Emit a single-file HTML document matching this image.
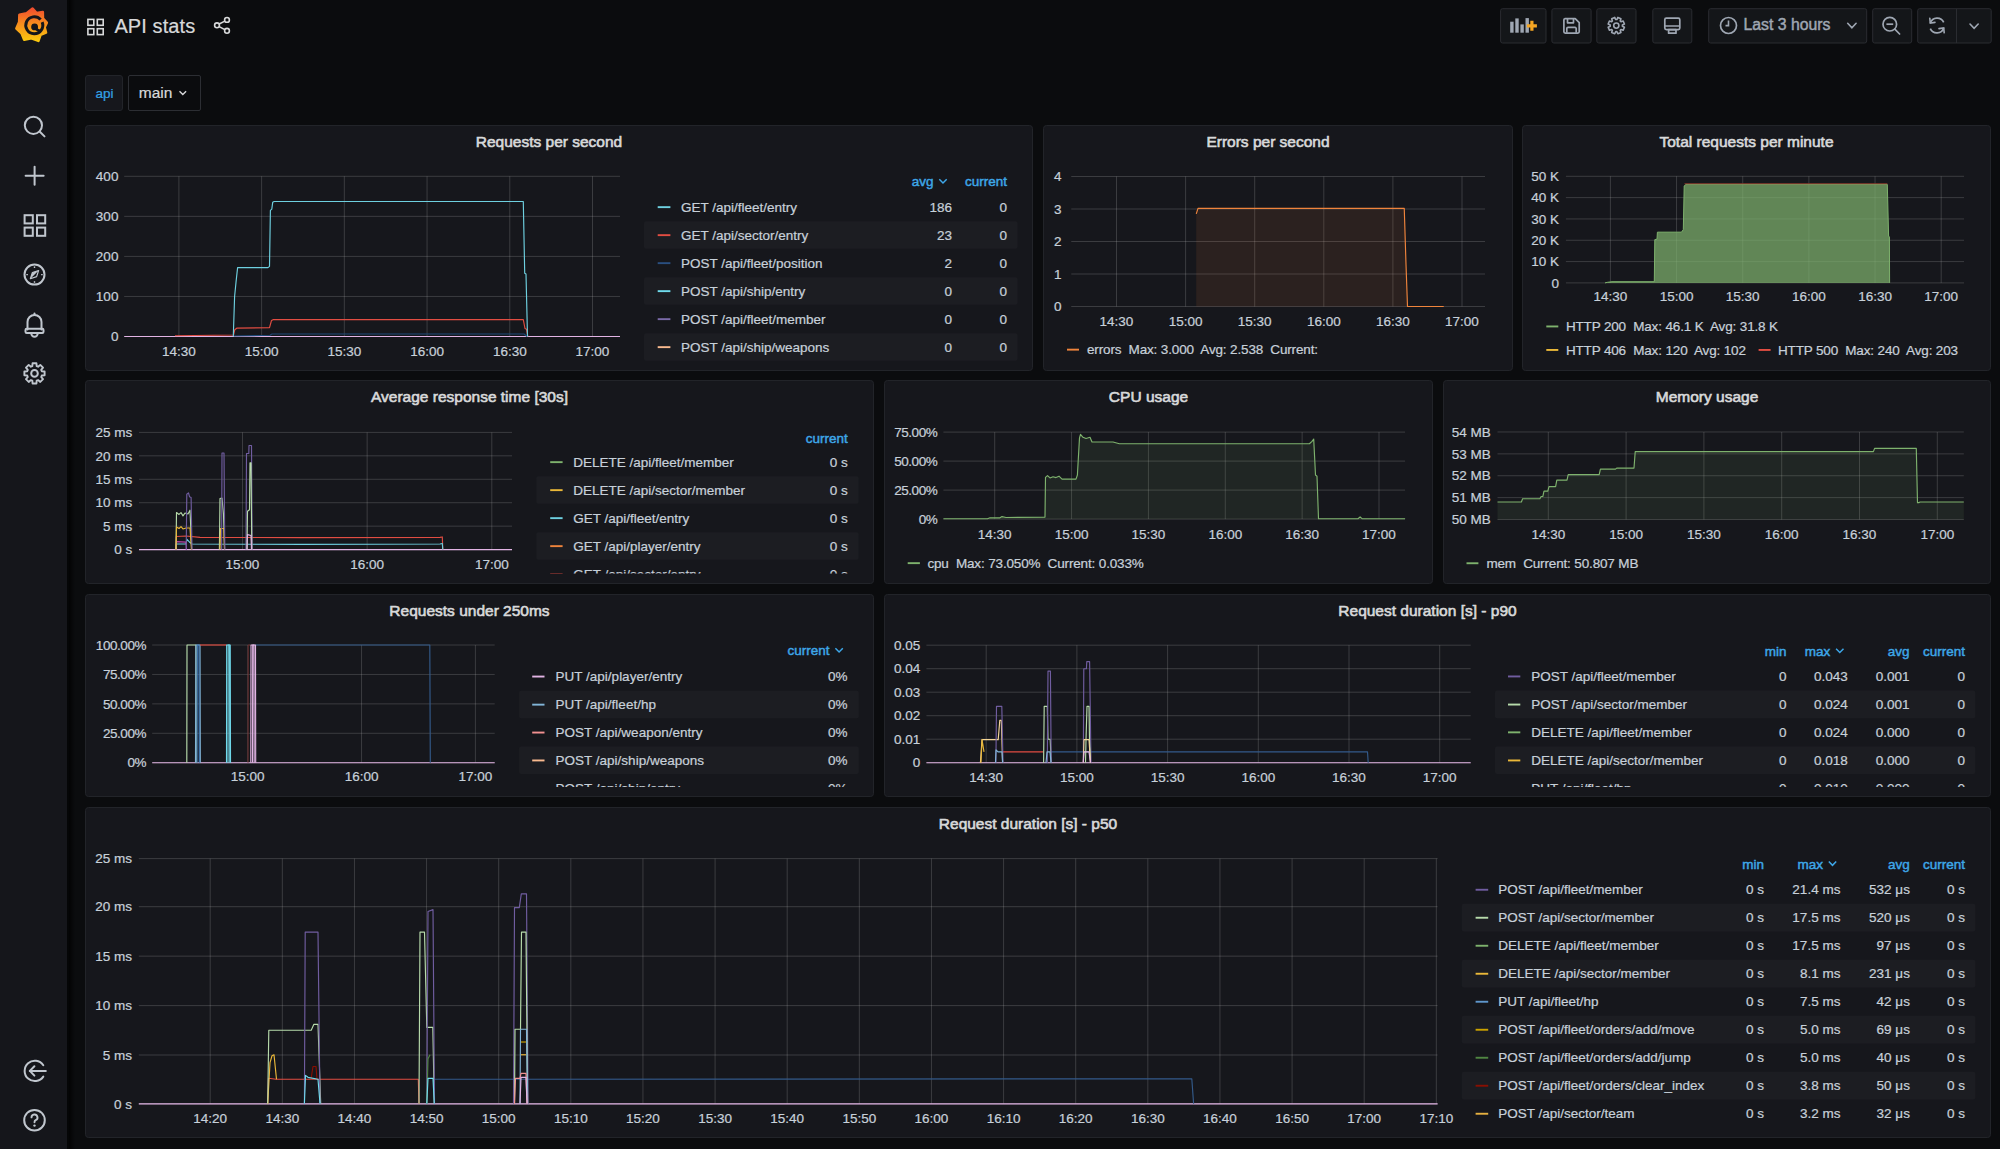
<!DOCTYPE html>
<html><head><meta charset="utf-8"><title>API stats - Grafana</title>
<style>
html,body{margin:0;padding:0;background:#0b0c0e;width:2000px;height:1149px;overflow:hidden;}
svg{position:absolute;left:0;top:0;display:block;}
text{font-family:'Liberation Sans', sans-serif;}
</style></head><body>
<svg width="2000" height="1149" viewBox="0 0 2000 1149">
<rect x="0" y="0" width="67" height="1149" fill="#15161b"/>
<rect x="67" y="0" width="2" height="1149" fill="#050607"/>
<rect x="69" y="0" width="6" height="1149" fill="url(#shd)"/>
<rect x="85.5" y="125.5" width="947" height="245" fill="#16171c" stroke="#222429" stroke-width="1" rx="3"/>
<text x="549" y="147.4" font-size="15.5" fill="#d8d9da" text-anchor="middle" stroke="#d8d9da" stroke-width="0.62">Requests per second</text>
<rect x="1043.5" y="125.5" width="469" height="245" fill="#16171c" stroke="#222429" stroke-width="1" rx="3"/>
<text x="1268" y="147.4" font-size="15.5" fill="#d8d9da" text-anchor="middle" stroke="#d8d9da" stroke-width="0.62">Errors per second</text>
<rect x="1522.5" y="125.5" width="468" height="245" fill="#16171c" stroke="#222429" stroke-width="1" rx="3"/>
<text x="1746.5" y="147.4" font-size="15.5" fill="#d8d9da" text-anchor="middle" stroke="#d8d9da" stroke-width="0.62">Total requests per minute</text>
<rect x="85.5" y="380.5" width="788" height="203" fill="#16171c" stroke="#222429" stroke-width="1" rx="3"/>
<text x="469.5" y="402.4" font-size="15.5" fill="#d8d9da" text-anchor="middle" stroke="#d8d9da" stroke-width="0.62">Average response time [30s]</text>
<rect x="884.5" y="380.5" width="548" height="203" fill="#16171c" stroke="#222429" stroke-width="1" rx="3"/>
<text x="1148.5" y="402.4" font-size="15.5" fill="#d8d9da" text-anchor="middle" stroke="#d8d9da" stroke-width="0.62">CPU usage</text>
<rect x="1443.5" y="380.5" width="547" height="203" fill="#16171c" stroke="#222429" stroke-width="1" rx="3"/>
<text x="1707" y="402.4" font-size="15.5" fill="#d8d9da" text-anchor="middle" stroke="#d8d9da" stroke-width="0.62">Memory usage</text>
<rect x="85.5" y="594.5" width="788" height="202" fill="#16171c" stroke="#222429" stroke-width="1" rx="3"/>
<text x="469.5" y="616.4" font-size="15.5" fill="#d8d9da" text-anchor="middle" stroke="#d8d9da" stroke-width="0.62">Requests under 250ms</text>
<rect x="884.5" y="594.5" width="1106" height="202" fill="#16171c" stroke="#222429" stroke-width="1" rx="3"/>
<text x="1427.5" y="616.4" font-size="15.5" fill="#d8d9da" text-anchor="middle" stroke="#d8d9da" stroke-width="0.62">Request duration [s] - p90</text>
<rect x="85.5" y="807.5" width="1905" height="330" fill="#16171c" stroke="#222429" stroke-width="1" rx="3"/>
<text x="1028" y="829.4" font-size="15.5" fill="#d8d9da" text-anchor="middle" stroke="#d8d9da" stroke-width="0.62">Request duration [s] - p50</text>
<line x1="124.2" y1="336.5" x2="620" y2="336.5" stroke="#c8c8c8" stroke-opacity="0.21" stroke-width="1"/>
<text x="118.4" y="341.2" font-size="13.5" fill="#c7d0d9" text-anchor="end" stroke="#c7d0d9" stroke-width="0.22">0</text>
<line x1="124.2" y1="296.45" x2="620" y2="296.45" stroke="#c8c8c8" stroke-opacity="0.21" stroke-width="1"/>
<text x="118.4" y="301.15" font-size="13.5" fill="#c7d0d9" text-anchor="end" stroke="#c7d0d9" stroke-width="0.22">100</text>
<line x1="124.2" y1="256.4" x2="620" y2="256.4" stroke="#c8c8c8" stroke-opacity="0.21" stroke-width="1"/>
<text x="118.4" y="261.1" font-size="13.5" fill="#c7d0d9" text-anchor="end" stroke="#c7d0d9" stroke-width="0.22">200</text>
<line x1="124.2" y1="216.35" x2="620" y2="216.35" stroke="#c8c8c8" stroke-opacity="0.21" stroke-width="1"/>
<text x="118.4" y="221.05" font-size="13.5" fill="#c7d0d9" text-anchor="end" stroke="#c7d0d9" stroke-width="0.22">300</text>
<line x1="124.2" y1="176.3" x2="620" y2="176.3" stroke="#c8c8c8" stroke-opacity="0.21" stroke-width="1"/>
<text x="118.4" y="181" font-size="13.5" fill="#c7d0d9" text-anchor="end" stroke="#c7d0d9" stroke-width="0.22">400</text>
<line x1="178.9" y1="176.3" x2="178.9" y2="336.5" stroke="#c8c8c8" stroke-opacity="0.21" stroke-width="1"/>
<text x="178.9" y="356" font-size="13.5" fill="#c7d0d9" text-anchor="middle" stroke="#c7d0d9" stroke-width="0.22">14:30</text>
<line x1="261.62" y1="176.3" x2="261.62" y2="336.5" stroke="#c8c8c8" stroke-opacity="0.21" stroke-width="1"/>
<text x="261.62" y="356" font-size="13.5" fill="#c7d0d9" text-anchor="middle" stroke="#c7d0d9" stroke-width="0.22">15:00</text>
<line x1="344.34" y1="176.3" x2="344.34" y2="336.5" stroke="#c8c8c8" stroke-opacity="0.21" stroke-width="1"/>
<text x="344.34" y="356" font-size="13.5" fill="#c7d0d9" text-anchor="middle" stroke="#c7d0d9" stroke-width="0.22">15:30</text>
<line x1="427.06" y1="176.3" x2="427.06" y2="336.5" stroke="#c8c8c8" stroke-opacity="0.21" stroke-width="1"/>
<text x="427.06" y="356" font-size="13.5" fill="#c7d0d9" text-anchor="middle" stroke="#c7d0d9" stroke-width="0.22">16:00</text>
<line x1="509.78" y1="176.3" x2="509.78" y2="336.5" stroke="#c8c8c8" stroke-opacity="0.21" stroke-width="1"/>
<text x="509.78" y="356" font-size="13.5" fill="#c7d0d9" text-anchor="middle" stroke="#c7d0d9" stroke-width="0.22">16:30</text>
<line x1="592.5" y1="176.3" x2="592.5" y2="336.5" stroke="#c8c8c8" stroke-opacity="0.21" stroke-width="1"/>
<text x="592.5" y="356" font-size="13.5" fill="#c7d0d9" text-anchor="middle" stroke="#c7d0d9" stroke-width="0.22">17:00</text>
<line x1="1071.25" y1="306.5" x2="1485" y2="306.5" stroke="#c8c8c8" stroke-opacity="0.21" stroke-width="1"/>
<text x="1061.5" y="311.2" font-size="13.5" fill="#c7d0d9" text-anchor="end" stroke="#c7d0d9" stroke-width="0.22">0</text>
<line x1="1071.25" y1="274" x2="1485" y2="274" stroke="#c8c8c8" stroke-opacity="0.21" stroke-width="1"/>
<text x="1061.5" y="278.7" font-size="13.5" fill="#c7d0d9" text-anchor="end" stroke="#c7d0d9" stroke-width="0.22">1</text>
<line x1="1071.25" y1="241.5" x2="1485" y2="241.5" stroke="#c8c8c8" stroke-opacity="0.21" stroke-width="1"/>
<text x="1061.5" y="246.2" font-size="13.5" fill="#c7d0d9" text-anchor="end" stroke="#c7d0d9" stroke-width="0.22">2</text>
<line x1="1071.25" y1="209" x2="1485" y2="209" stroke="#c8c8c8" stroke-opacity="0.21" stroke-width="1"/>
<text x="1061.5" y="213.7" font-size="13.5" fill="#c7d0d9" text-anchor="end" stroke="#c7d0d9" stroke-width="0.22">3</text>
<line x1="1071.25" y1="176.5" x2="1485" y2="176.5" stroke="#c8c8c8" stroke-opacity="0.21" stroke-width="1"/>
<text x="1061.5" y="181.2" font-size="13.5" fill="#c7d0d9" text-anchor="end" stroke="#c7d0d9" stroke-width="0.22">4</text>
<line x1="1116.5" y1="176.5" x2="1116.5" y2="306.5" stroke="#c8c8c8" stroke-opacity="0.21" stroke-width="1"/>
<text x="1116.5" y="325.5" font-size="13.5" fill="#c7d0d9" text-anchor="middle" stroke="#c7d0d9" stroke-width="0.22">14:30</text>
<line x1="1185.6" y1="176.5" x2="1185.6" y2="306.5" stroke="#c8c8c8" stroke-opacity="0.21" stroke-width="1"/>
<text x="1185.6" y="325.5" font-size="13.5" fill="#c7d0d9" text-anchor="middle" stroke="#c7d0d9" stroke-width="0.22">15:00</text>
<line x1="1254.7" y1="176.5" x2="1254.7" y2="306.5" stroke="#c8c8c8" stroke-opacity="0.21" stroke-width="1"/>
<text x="1254.7" y="325.5" font-size="13.5" fill="#c7d0d9" text-anchor="middle" stroke="#c7d0d9" stroke-width="0.22">15:30</text>
<line x1="1323.8" y1="176.5" x2="1323.8" y2="306.5" stroke="#c8c8c8" stroke-opacity="0.21" stroke-width="1"/>
<text x="1323.8" y="325.5" font-size="13.5" fill="#c7d0d9" text-anchor="middle" stroke="#c7d0d9" stroke-width="0.22">16:00</text>
<line x1="1392.9" y1="176.5" x2="1392.9" y2="306.5" stroke="#c8c8c8" stroke-opacity="0.21" stroke-width="1"/>
<text x="1392.9" y="325.5" font-size="13.5" fill="#c7d0d9" text-anchor="middle" stroke="#c7d0d9" stroke-width="0.22">16:30</text>
<line x1="1462" y1="176.5" x2="1462" y2="306.5" stroke="#c8c8c8" stroke-opacity="0.21" stroke-width="1"/>
<text x="1462" y="325.5" font-size="13.5" fill="#c7d0d9" text-anchor="middle" stroke="#c7d0d9" stroke-width="0.22">17:00</text>
<line x1="1565.9" y1="282.9" x2="1964" y2="282.9" stroke="#c8c8c8" stroke-opacity="0.21" stroke-width="1"/>
<text x="1559" y="287.6" font-size="13.5" fill="#c7d0d9" text-anchor="end" stroke="#c7d0d9" stroke-width="0.22">0</text>
<line x1="1565.9" y1="261.58" x2="1964" y2="261.58" stroke="#c8c8c8" stroke-opacity="0.21" stroke-width="1"/>
<text x="1559" y="266.28" font-size="13.5" fill="#c7d0d9" text-anchor="end" stroke="#c7d0d9" stroke-width="0.22">10 K</text>
<line x1="1565.9" y1="240.26" x2="1964" y2="240.26" stroke="#c8c8c8" stroke-opacity="0.21" stroke-width="1"/>
<text x="1559" y="244.96" font-size="13.5" fill="#c7d0d9" text-anchor="end" stroke="#c7d0d9" stroke-width="0.22">20 K</text>
<line x1="1565.9" y1="218.94" x2="1964" y2="218.94" stroke="#c8c8c8" stroke-opacity="0.21" stroke-width="1"/>
<text x="1559" y="223.64" font-size="13.5" fill="#c7d0d9" text-anchor="end" stroke="#c7d0d9" stroke-width="0.22">30 K</text>
<line x1="1565.9" y1="197.62" x2="1964" y2="197.62" stroke="#c8c8c8" stroke-opacity="0.21" stroke-width="1"/>
<text x="1559" y="202.32" font-size="13.5" fill="#c7d0d9" text-anchor="end" stroke="#c7d0d9" stroke-width="0.22">40 K</text>
<line x1="1565.9" y1="176.3" x2="1964" y2="176.3" stroke="#c8c8c8" stroke-opacity="0.21" stroke-width="1"/>
<text x="1559" y="181" font-size="13.5" fill="#c7d0d9" text-anchor="end" stroke="#c7d0d9" stroke-width="0.22">50 K</text>
<line x1="1610.4" y1="176.3" x2="1610.4" y2="282.9" stroke="#c8c8c8" stroke-opacity="0.21" stroke-width="1"/>
<text x="1610.4" y="301.3" font-size="13.5" fill="#c7d0d9" text-anchor="middle" stroke="#c7d0d9" stroke-width="0.22">14:30</text>
<line x1="1676.56" y1="176.3" x2="1676.56" y2="282.9" stroke="#c8c8c8" stroke-opacity="0.21" stroke-width="1"/>
<text x="1676.56" y="301.3" font-size="13.5" fill="#c7d0d9" text-anchor="middle" stroke="#c7d0d9" stroke-width="0.22">15:00</text>
<line x1="1742.72" y1="176.3" x2="1742.72" y2="282.9" stroke="#c8c8c8" stroke-opacity="0.21" stroke-width="1"/>
<text x="1742.72" y="301.3" font-size="13.5" fill="#c7d0d9" text-anchor="middle" stroke="#c7d0d9" stroke-width="0.22">15:30</text>
<line x1="1808.88" y1="176.3" x2="1808.88" y2="282.9" stroke="#c8c8c8" stroke-opacity="0.21" stroke-width="1"/>
<text x="1808.88" y="301.3" font-size="13.5" fill="#c7d0d9" text-anchor="middle" stroke="#c7d0d9" stroke-width="0.22">16:00</text>
<line x1="1875.04" y1="176.3" x2="1875.04" y2="282.9" stroke="#c8c8c8" stroke-opacity="0.21" stroke-width="1"/>
<text x="1875.04" y="301.3" font-size="13.5" fill="#c7d0d9" text-anchor="middle" stroke="#c7d0d9" stroke-width="0.22">16:30</text>
<line x1="1941.2" y1="176.3" x2="1941.2" y2="282.9" stroke="#c8c8c8" stroke-opacity="0.21" stroke-width="1"/>
<text x="1941.2" y="301.3" font-size="13.5" fill="#c7d0d9" text-anchor="middle" stroke="#c7d0d9" stroke-width="0.22">17:00</text>
<line x1="139" y1="549.6" x2="512" y2="549.6" stroke="#c8c8c8" stroke-opacity="0.21" stroke-width="1"/>
<text x="132.2" y="554.3" font-size="13.5" fill="#c7d0d9" text-anchor="end" stroke="#c7d0d9" stroke-width="0.22">0 s</text>
<line x1="139" y1="526.16" x2="512" y2="526.16" stroke="#c8c8c8" stroke-opacity="0.21" stroke-width="1"/>
<text x="132.2" y="530.86" font-size="13.5" fill="#c7d0d9" text-anchor="end" stroke="#c7d0d9" stroke-width="0.22">5 ms</text>
<line x1="139" y1="502.72" x2="512" y2="502.72" stroke="#c8c8c8" stroke-opacity="0.21" stroke-width="1"/>
<text x="132.2" y="507.42" font-size="13.5" fill="#c7d0d9" text-anchor="end" stroke="#c7d0d9" stroke-width="0.22">10 ms</text>
<line x1="139" y1="479.28" x2="512" y2="479.28" stroke="#c8c8c8" stroke-opacity="0.21" stroke-width="1"/>
<text x="132.2" y="483.98" font-size="13.5" fill="#c7d0d9" text-anchor="end" stroke="#c7d0d9" stroke-width="0.22">15 ms</text>
<line x1="139" y1="455.84" x2="512" y2="455.84" stroke="#c8c8c8" stroke-opacity="0.21" stroke-width="1"/>
<text x="132.2" y="460.54" font-size="13.5" fill="#c7d0d9" text-anchor="end" stroke="#c7d0d9" stroke-width="0.22">20 ms</text>
<line x1="139" y1="432.4" x2="512" y2="432.4" stroke="#c8c8c8" stroke-opacity="0.21" stroke-width="1"/>
<text x="132.2" y="437.1" font-size="13.5" fill="#c7d0d9" text-anchor="end" stroke="#c7d0d9" stroke-width="0.22">25 ms</text>
<line x1="242.5" y1="432.4" x2="242.5" y2="549.6" stroke="#c8c8c8" stroke-opacity="0.21" stroke-width="1"/>
<text x="242.5" y="568.5" font-size="13.5" fill="#c7d0d9" text-anchor="middle" stroke="#c7d0d9" stroke-width="0.22">15:00</text>
<line x1="367.15" y1="432.4" x2="367.15" y2="549.6" stroke="#c8c8c8" stroke-opacity="0.21" stroke-width="1"/>
<text x="367.15" y="568.5" font-size="13.5" fill="#c7d0d9" text-anchor="middle" stroke="#c7d0d9" stroke-width="0.22">16:00</text>
<line x1="491.8" y1="432.4" x2="491.8" y2="549.6" stroke="#c8c8c8" stroke-opacity="0.21" stroke-width="1"/>
<text x="491.8" y="568.5" font-size="13.5" fill="#c7d0d9" text-anchor="middle" stroke="#c7d0d9" stroke-width="0.22">17:00</text>
<line x1="943.4" y1="519.1" x2="1405.1" y2="519.1" stroke="#c8c8c8" stroke-opacity="0.21" stroke-width="1"/>
<text x="937.3" y="523.8" font-size="13.5" fill="#c7d0d9" text-anchor="end" letter-spacing="-0.45" stroke="#c7d0d9" stroke-width="0.22">0%</text>
<line x1="943.4" y1="490.1" x2="1405.1" y2="490.1" stroke="#c8c8c8" stroke-opacity="0.21" stroke-width="1"/>
<text x="937.3" y="494.8" font-size="13.5" fill="#c7d0d9" text-anchor="end" letter-spacing="-0.45" stroke="#c7d0d9" stroke-width="0.22">25.00%</text>
<line x1="943.4" y1="461.1" x2="1405.1" y2="461.1" stroke="#c8c8c8" stroke-opacity="0.21" stroke-width="1"/>
<text x="937.3" y="465.8" font-size="13.5" fill="#c7d0d9" text-anchor="end" letter-spacing="-0.45" stroke="#c7d0d9" stroke-width="0.22">50.00%</text>
<line x1="943.4" y1="432.1" x2="1405.1" y2="432.1" stroke="#c8c8c8" stroke-opacity="0.21" stroke-width="1"/>
<text x="937.3" y="436.8" font-size="13.5" fill="#c7d0d9" text-anchor="end" letter-spacing="-0.45" stroke="#c7d0d9" stroke-width="0.22">75.00%</text>
<line x1="994.7" y1="432.1" x2="994.7" y2="519.1" stroke="#c8c8c8" stroke-opacity="0.21" stroke-width="1"/>
<text x="994.7" y="538.9" font-size="13.5" fill="#c7d0d9" text-anchor="middle" stroke="#c7d0d9" stroke-width="0.22">14:30</text>
<line x1="1071.56" y1="432.1" x2="1071.56" y2="519.1" stroke="#c8c8c8" stroke-opacity="0.21" stroke-width="1"/>
<text x="1071.56" y="538.9" font-size="13.5" fill="#c7d0d9" text-anchor="middle" stroke="#c7d0d9" stroke-width="0.22">15:00</text>
<line x1="1148.42" y1="432.1" x2="1148.42" y2="519.1" stroke="#c8c8c8" stroke-opacity="0.21" stroke-width="1"/>
<text x="1148.42" y="538.9" font-size="13.5" fill="#c7d0d9" text-anchor="middle" stroke="#c7d0d9" stroke-width="0.22">15:30</text>
<line x1="1225.28" y1="432.1" x2="1225.28" y2="519.1" stroke="#c8c8c8" stroke-opacity="0.21" stroke-width="1"/>
<text x="1225.28" y="538.9" font-size="13.5" fill="#c7d0d9" text-anchor="middle" stroke="#c7d0d9" stroke-width="0.22">16:00</text>
<line x1="1302.14" y1="432.1" x2="1302.14" y2="519.1" stroke="#c8c8c8" stroke-opacity="0.21" stroke-width="1"/>
<text x="1302.14" y="538.9" font-size="13.5" fill="#c7d0d9" text-anchor="middle" stroke="#c7d0d9" stroke-width="0.22">16:30</text>
<line x1="1379" y1="432.1" x2="1379" y2="519.1" stroke="#c8c8c8" stroke-opacity="0.21" stroke-width="1"/>
<text x="1379" y="538.9" font-size="13.5" fill="#c7d0d9" text-anchor="middle" stroke="#c7d0d9" stroke-width="0.22">17:00</text>
<line x1="1497.5" y1="519.5" x2="1963.8" y2="519.5" stroke="#c8c8c8" stroke-opacity="0.21" stroke-width="1"/>
<text x="1490.7" y="524.2" font-size="13.5" fill="#c7d0d9" text-anchor="end" stroke="#c7d0d9" stroke-width="0.22">50 MB</text>
<line x1="1497.5" y1="497.62" x2="1963.8" y2="497.62" stroke="#c8c8c8" stroke-opacity="0.21" stroke-width="1"/>
<text x="1490.7" y="502.32" font-size="13.5" fill="#c7d0d9" text-anchor="end" stroke="#c7d0d9" stroke-width="0.22">51 MB</text>
<line x1="1497.5" y1="475.74" x2="1963.8" y2="475.74" stroke="#c8c8c8" stroke-opacity="0.21" stroke-width="1"/>
<text x="1490.7" y="480.44" font-size="13.5" fill="#c7d0d9" text-anchor="end" stroke="#c7d0d9" stroke-width="0.22">52 MB</text>
<line x1="1497.5" y1="453.86" x2="1963.8" y2="453.86" stroke="#c8c8c8" stroke-opacity="0.21" stroke-width="1"/>
<text x="1490.7" y="458.56" font-size="13.5" fill="#c7d0d9" text-anchor="end" stroke="#c7d0d9" stroke-width="0.22">53 MB</text>
<line x1="1497.5" y1="431.98" x2="1963.8" y2="431.98" stroke="#c8c8c8" stroke-opacity="0.21" stroke-width="1"/>
<text x="1490.7" y="436.68" font-size="13.5" fill="#c7d0d9" text-anchor="end" stroke="#c7d0d9" stroke-width="0.22">54 MB</text>
<line x1="1548.3" y1="431.98" x2="1548.3" y2="519.5" stroke="#c8c8c8" stroke-opacity="0.21" stroke-width="1"/>
<text x="1548.3" y="538.9" font-size="13.5" fill="#c7d0d9" text-anchor="middle" stroke="#c7d0d9" stroke-width="0.22">14:30</text>
<line x1="1626.1" y1="431.98" x2="1626.1" y2="519.5" stroke="#c8c8c8" stroke-opacity="0.21" stroke-width="1"/>
<text x="1626.1" y="538.9" font-size="13.5" fill="#c7d0d9" text-anchor="middle" stroke="#c7d0d9" stroke-width="0.22">15:00</text>
<line x1="1703.9" y1="431.98" x2="1703.9" y2="519.5" stroke="#c8c8c8" stroke-opacity="0.21" stroke-width="1"/>
<text x="1703.9" y="538.9" font-size="13.5" fill="#c7d0d9" text-anchor="middle" stroke="#c7d0d9" stroke-width="0.22">15:30</text>
<line x1="1781.7" y1="431.98" x2="1781.7" y2="519.5" stroke="#c8c8c8" stroke-opacity="0.21" stroke-width="1"/>
<text x="1781.7" y="538.9" font-size="13.5" fill="#c7d0d9" text-anchor="middle" stroke="#c7d0d9" stroke-width="0.22">16:00</text>
<line x1="1859.5" y1="431.98" x2="1859.5" y2="519.5" stroke="#c8c8c8" stroke-opacity="0.21" stroke-width="1"/>
<text x="1859.5" y="538.9" font-size="13.5" fill="#c7d0d9" text-anchor="middle" stroke="#c7d0d9" stroke-width="0.22">16:30</text>
<line x1="1937.3" y1="431.98" x2="1937.3" y2="519.5" stroke="#c8c8c8" stroke-opacity="0.21" stroke-width="1"/>
<text x="1937.3" y="538.9" font-size="13.5" fill="#c7d0d9" text-anchor="middle" stroke="#c7d0d9" stroke-width="0.22">17:00</text>
<line x1="152.2" y1="762.7" x2="494.7" y2="762.7" stroke="#c8c8c8" stroke-opacity="0.21" stroke-width="1"/>
<text x="146" y="767.4" font-size="13.5" fill="#c7d0d9" text-anchor="end" letter-spacing="-0.45" stroke="#c7d0d9" stroke-width="0.22">0%</text>
<line x1="152.2" y1="733.28" x2="494.7" y2="733.28" stroke="#c8c8c8" stroke-opacity="0.21" stroke-width="1"/>
<text x="146" y="737.98" font-size="13.5" fill="#c7d0d9" text-anchor="end" letter-spacing="-0.45" stroke="#c7d0d9" stroke-width="0.22">25.00%</text>
<line x1="152.2" y1="703.86" x2="494.7" y2="703.86" stroke="#c8c8c8" stroke-opacity="0.21" stroke-width="1"/>
<text x="146" y="708.56" font-size="13.5" fill="#c7d0d9" text-anchor="end" letter-spacing="-0.45" stroke="#c7d0d9" stroke-width="0.22">50.00%</text>
<line x1="152.2" y1="674.44" x2="494.7" y2="674.44" stroke="#c8c8c8" stroke-opacity="0.21" stroke-width="1"/>
<text x="146" y="679.14" font-size="13.5" fill="#c7d0d9" text-anchor="end" letter-spacing="-0.45" stroke="#c7d0d9" stroke-width="0.22">75.00%</text>
<line x1="152.2" y1="645.02" x2="494.7" y2="645.02" stroke="#c8c8c8" stroke-opacity="0.21" stroke-width="1"/>
<text x="146" y="649.72" font-size="13.5" fill="#c7d0d9" text-anchor="end" letter-spacing="-0.45" stroke="#c7d0d9" stroke-width="0.22">100.00%</text>
<line x1="247.7" y1="645.02" x2="247.7" y2="762.7" stroke="#c8c8c8" stroke-opacity="0.21" stroke-width="1"/>
<text x="247.7" y="781.4" font-size="13.5" fill="#c7d0d9" text-anchor="middle" stroke="#c7d0d9" stroke-width="0.22">15:00</text>
<line x1="361.55" y1="645.02" x2="361.55" y2="762.7" stroke="#c8c8c8" stroke-opacity="0.21" stroke-width="1"/>
<text x="361.55" y="781.4" font-size="13.5" fill="#c7d0d9" text-anchor="middle" stroke="#c7d0d9" stroke-width="0.22">16:00</text>
<line x1="475.4" y1="645.02" x2="475.4" y2="762.7" stroke="#c8c8c8" stroke-opacity="0.21" stroke-width="1"/>
<text x="475.4" y="781.4" font-size="13.5" fill="#c7d0d9" text-anchor="middle" stroke="#c7d0d9" stroke-width="0.22">17:00</text>
<line x1="926.4" y1="762.7" x2="1470.7" y2="762.7" stroke="#c8c8c8" stroke-opacity="0.21" stroke-width="1"/>
<text x="920.2" y="767.4" font-size="13.5" fill="#c7d0d9" text-anchor="end" stroke="#c7d0d9" stroke-width="0.22">0</text>
<line x1="926.4" y1="739.2" x2="1470.7" y2="739.2" stroke="#c8c8c8" stroke-opacity="0.21" stroke-width="1"/>
<text x="920.2" y="743.9" font-size="13.5" fill="#c7d0d9" text-anchor="end" stroke="#c7d0d9" stroke-width="0.22">0.01</text>
<line x1="926.4" y1="715.7" x2="1470.7" y2="715.7" stroke="#c8c8c8" stroke-opacity="0.21" stroke-width="1"/>
<text x="920.2" y="720.4" font-size="13.5" fill="#c7d0d9" text-anchor="end" stroke="#c7d0d9" stroke-width="0.22">0.02</text>
<line x1="926.4" y1="692.2" x2="1470.7" y2="692.2" stroke="#c8c8c8" stroke-opacity="0.21" stroke-width="1"/>
<text x="920.2" y="696.9" font-size="13.5" fill="#c7d0d9" text-anchor="end" stroke="#c7d0d9" stroke-width="0.22">0.03</text>
<line x1="926.4" y1="668.7" x2="1470.7" y2="668.7" stroke="#c8c8c8" stroke-opacity="0.21" stroke-width="1"/>
<text x="920.2" y="673.4" font-size="13.5" fill="#c7d0d9" text-anchor="end" stroke="#c7d0d9" stroke-width="0.22">0.04</text>
<line x1="926.4" y1="645.2" x2="1470.7" y2="645.2" stroke="#c8c8c8" stroke-opacity="0.21" stroke-width="1"/>
<text x="920.2" y="649.9" font-size="13.5" fill="#c7d0d9" text-anchor="end" stroke="#c7d0d9" stroke-width="0.22">0.05</text>
<line x1="986.2" y1="645.2" x2="986.2" y2="762.7" stroke="#c8c8c8" stroke-opacity="0.21" stroke-width="1"/>
<text x="986.2" y="782.2" font-size="13.5" fill="#c7d0d9" text-anchor="middle" stroke="#c7d0d9" stroke-width="0.22">14:30</text>
<line x1="1076.9" y1="645.2" x2="1076.9" y2="762.7" stroke="#c8c8c8" stroke-opacity="0.21" stroke-width="1"/>
<text x="1076.9" y="782.2" font-size="13.5" fill="#c7d0d9" text-anchor="middle" stroke="#c7d0d9" stroke-width="0.22">15:00</text>
<line x1="1167.6" y1="645.2" x2="1167.6" y2="762.7" stroke="#c8c8c8" stroke-opacity="0.21" stroke-width="1"/>
<text x="1167.6" y="782.2" font-size="13.5" fill="#c7d0d9" text-anchor="middle" stroke="#c7d0d9" stroke-width="0.22">15:30</text>
<line x1="1258.3" y1="645.2" x2="1258.3" y2="762.7" stroke="#c8c8c8" stroke-opacity="0.21" stroke-width="1"/>
<text x="1258.3" y="782.2" font-size="13.5" fill="#c7d0d9" text-anchor="middle" stroke="#c7d0d9" stroke-width="0.22">16:00</text>
<line x1="1349" y1="645.2" x2="1349" y2="762.7" stroke="#c8c8c8" stroke-opacity="0.21" stroke-width="1"/>
<text x="1349" y="782.2" font-size="13.5" fill="#c7d0d9" text-anchor="middle" stroke="#c7d0d9" stroke-width="0.22">16:30</text>
<line x1="1439.7" y1="645.2" x2="1439.7" y2="762.7" stroke="#c8c8c8" stroke-opacity="0.21" stroke-width="1"/>
<text x="1439.7" y="782.2" font-size="13.5" fill="#c7d0d9" text-anchor="middle" stroke="#c7d0d9" stroke-width="0.22">17:00</text>
<line x1="138.8" y1="1103.8" x2="1437.6" y2="1103.8" stroke="#c8c8c8" stroke-opacity="0.21" stroke-width="1"/>
<text x="132" y="1108.5" font-size="13.5" fill="#c7d0d9" text-anchor="end" stroke="#c7d0d9" stroke-width="0.22">0 s</text>
<line x1="138.8" y1="1055" x2="1437.6" y2="1055" stroke="#c8c8c8" stroke-opacity="0.21" stroke-width="1"/>
<text x="132" y="1059.7" font-size="13.5" fill="#c7d0d9" text-anchor="end" stroke="#c7d0d9" stroke-width="0.22">5 ms</text>
<line x1="138.8" y1="1005.6" x2="1437.6" y2="1005.6" stroke="#c8c8c8" stroke-opacity="0.21" stroke-width="1"/>
<text x="132" y="1010.3" font-size="13.5" fill="#c7d0d9" text-anchor="end" stroke="#c7d0d9" stroke-width="0.22">10 ms</text>
<line x1="138.8" y1="956.15" x2="1437.6" y2="956.15" stroke="#c8c8c8" stroke-opacity="0.21" stroke-width="1"/>
<text x="132" y="960.85" font-size="13.5" fill="#c7d0d9" text-anchor="end" stroke="#c7d0d9" stroke-width="0.22">15 ms</text>
<line x1="138.8" y1="906.7" x2="1437.6" y2="906.7" stroke="#c8c8c8" stroke-opacity="0.21" stroke-width="1"/>
<text x="132" y="911.4" font-size="13.5" fill="#c7d0d9" text-anchor="end" stroke="#c7d0d9" stroke-width="0.22">20 ms</text>
<line x1="138.8" y1="858.6" x2="1437.6" y2="858.6" stroke="#c8c8c8" stroke-opacity="0.21" stroke-width="1"/>
<text x="132" y="863.3" font-size="13.5" fill="#c7d0d9" text-anchor="end" stroke="#c7d0d9" stroke-width="0.22">25 ms</text>
<line x1="210.2" y1="858.6" x2="210.2" y2="1103.8" stroke="#c8c8c8" stroke-opacity="0.21" stroke-width="1"/>
<text x="210.2" y="1123" font-size="13.5" fill="#c7d0d9" text-anchor="middle" stroke="#c7d0d9" stroke-width="0.22">14:20</text>
<line x1="282.32" y1="858.6" x2="282.32" y2="1103.8" stroke="#c8c8c8" stroke-opacity="0.21" stroke-width="1"/>
<text x="282.32" y="1123" font-size="13.5" fill="#c7d0d9" text-anchor="middle" stroke="#c7d0d9" stroke-width="0.22">14:30</text>
<line x1="354.45" y1="858.6" x2="354.45" y2="1103.8" stroke="#c8c8c8" stroke-opacity="0.21" stroke-width="1"/>
<text x="354.45" y="1123" font-size="13.5" fill="#c7d0d9" text-anchor="middle" stroke="#c7d0d9" stroke-width="0.22">14:40</text>
<line x1="426.57" y1="858.6" x2="426.57" y2="1103.8" stroke="#c8c8c8" stroke-opacity="0.21" stroke-width="1"/>
<text x="426.57" y="1123" font-size="13.5" fill="#c7d0d9" text-anchor="middle" stroke="#c7d0d9" stroke-width="0.22">14:50</text>
<line x1="498.7" y1="858.6" x2="498.7" y2="1103.8" stroke="#c8c8c8" stroke-opacity="0.21" stroke-width="1"/>
<text x="498.7" y="1123" font-size="13.5" fill="#c7d0d9" text-anchor="middle" stroke="#c7d0d9" stroke-width="0.22">15:00</text>
<line x1="570.83" y1="858.6" x2="570.83" y2="1103.8" stroke="#c8c8c8" stroke-opacity="0.21" stroke-width="1"/>
<text x="570.83" y="1123" font-size="13.5" fill="#c7d0d9" text-anchor="middle" stroke="#c7d0d9" stroke-width="0.22">15:10</text>
<line x1="642.95" y1="858.6" x2="642.95" y2="1103.8" stroke="#c8c8c8" stroke-opacity="0.21" stroke-width="1"/>
<text x="642.95" y="1123" font-size="13.5" fill="#c7d0d9" text-anchor="middle" stroke="#c7d0d9" stroke-width="0.22">15:20</text>
<line x1="715.08" y1="858.6" x2="715.08" y2="1103.8" stroke="#c8c8c8" stroke-opacity="0.21" stroke-width="1"/>
<text x="715.08" y="1123" font-size="13.5" fill="#c7d0d9" text-anchor="middle" stroke="#c7d0d9" stroke-width="0.22">15:30</text>
<line x1="787.2" y1="858.6" x2="787.2" y2="1103.8" stroke="#c8c8c8" stroke-opacity="0.21" stroke-width="1"/>
<text x="787.2" y="1123" font-size="13.5" fill="#c7d0d9" text-anchor="middle" stroke="#c7d0d9" stroke-width="0.22">15:40</text>
<line x1="859.33" y1="858.6" x2="859.33" y2="1103.8" stroke="#c8c8c8" stroke-opacity="0.21" stroke-width="1"/>
<text x="859.33" y="1123" font-size="13.5" fill="#c7d0d9" text-anchor="middle" stroke="#c7d0d9" stroke-width="0.22">15:50</text>
<line x1="931.45" y1="858.6" x2="931.45" y2="1103.8" stroke="#c8c8c8" stroke-opacity="0.21" stroke-width="1"/>
<text x="931.45" y="1123" font-size="13.5" fill="#c7d0d9" text-anchor="middle" stroke="#c7d0d9" stroke-width="0.22">16:00</text>
<line x1="1003.58" y1="858.6" x2="1003.58" y2="1103.8" stroke="#c8c8c8" stroke-opacity="0.21" stroke-width="1"/>
<text x="1003.58" y="1123" font-size="13.5" fill="#c7d0d9" text-anchor="middle" stroke="#c7d0d9" stroke-width="0.22">16:10</text>
<line x1="1075.7" y1="858.6" x2="1075.7" y2="1103.8" stroke="#c8c8c8" stroke-opacity="0.21" stroke-width="1"/>
<text x="1075.7" y="1123" font-size="13.5" fill="#c7d0d9" text-anchor="middle" stroke="#c7d0d9" stroke-width="0.22">16:20</text>
<line x1="1147.83" y1="858.6" x2="1147.83" y2="1103.8" stroke="#c8c8c8" stroke-opacity="0.21" stroke-width="1"/>
<text x="1147.83" y="1123" font-size="13.5" fill="#c7d0d9" text-anchor="middle" stroke="#c7d0d9" stroke-width="0.22">16:30</text>
<line x1="1219.95" y1="858.6" x2="1219.95" y2="1103.8" stroke="#c8c8c8" stroke-opacity="0.21" stroke-width="1"/>
<text x="1219.95" y="1123" font-size="13.5" fill="#c7d0d9" text-anchor="middle" stroke="#c7d0d9" stroke-width="0.22">16:40</text>
<line x1="1292.08" y1="858.6" x2="1292.08" y2="1103.8" stroke="#c8c8c8" stroke-opacity="0.21" stroke-width="1"/>
<text x="1292.08" y="1123" font-size="13.5" fill="#c7d0d9" text-anchor="middle" stroke="#c7d0d9" stroke-width="0.22">16:50</text>
<line x1="1364.2" y1="858.6" x2="1364.2" y2="1103.8" stroke="#c8c8c8" stroke-opacity="0.21" stroke-width="1"/>
<text x="1364.2" y="1123" font-size="13.5" fill="#c7d0d9" text-anchor="middle" stroke="#c7d0d9" stroke-width="0.22">17:00</text>
<line x1="1436.33" y1="858.6" x2="1436.33" y2="1103.8" stroke="#c8c8c8" stroke-opacity="0.21" stroke-width="1"/>
<text x="1436.33" y="1123" font-size="13.5" fill="#c7d0d9" text-anchor="middle" stroke="#c7d0d9" stroke-width="0.22">17:10</text>
<polyline points="124.2,336.5 620,336.5" fill="none" stroke="#e2b4e4" stroke-width="1.15" stroke-linejoin="round"/>
<polyline points="234,336 270,335.3 272,334 524,334 527,336.5" fill="none" stroke="#1d4a78" stroke-width="1.15" stroke-linejoin="round"/>
<polyline points="175,335.7 233.5,335 234.8,329.69 237,328.09 269.5,327.69 271.5,320.48 273,319.68 523.3,319.68 525,328.49 526.5,329.29 527.8,336.5" fill="none" stroke="#e24d42" stroke-width="1.15" stroke-linejoin="round"/>
<polyline points="233.3,336.5 234.6,296.45 236,282.43 237.6,267.61 268,267.61 269.5,266.41 270.4,210.34 271.8,209.14 272.7,202.33 274.2,201.53 523.3,201.53 524.7,273.22 526,274.02 527.5,336.5" fill="none" stroke="#6ed0e0" stroke-width="1.15" stroke-linejoin="round"/>
<polygon points="1196.25,306.5 1196.25,213.88 1198,208.35 1404.25,208.35 1406,264.25 1407.5,306.5" fill="#ef843c" fill-opacity="0.1"/>
<polyline points="1196.25,213.88 1198,208.35 1404.25,208.35 1406,264.25 1407.5,306.5 1443.75,306.5" fill="none" stroke="#ef843c" stroke-width="1.15" stroke-linejoin="round"/>
<polygon points="1605,282.9 1607.5,282.3 1612,281.7 1654.3,281.7 1654.8,239.62 1657,239.19 1657.4,232.16 1681.5,232.16 1683.3,229.6 1684.2,185.89 1686,184.4 1887.3,184.4 1888.6,236 1889.4,237.06 1889.6,282.9" fill="#7eb26d" fill-opacity="0.72"/>
<polyline points="1605,282.9 1607.5,282.3 1612,281.7 1654.3,281.7 1654.8,239.62 1657,239.19 1657.4,232.16 1681.5,232.16 1683.3,229.6 1684.2,185.89 1686,184.4 1887.3,184.4 1888.6,236 1889.4,237.06 1889.6,282.9" fill="none" stroke="#7eb26d" stroke-width="1" stroke-linejoin="round"/>
<polyline points="1684.5,183.76 1887.3,183.76" fill="none" stroke="#8a3a2a" stroke-width="1" stroke-linejoin="round"/>
<polyline points="139,549.6 512,549.6" fill="none" stroke="#e2b4e4" stroke-width="1.15" stroke-linejoin="round"/>
<polyline points="176,549.6 176.3,536.47 186,536 200,537.41 300,537.65 440,537.41 442.3,536.94 442.8,549.6" fill="none" stroke="#e24d42" stroke-width="1.15" stroke-linejoin="round"/>
<polyline points="176,549.6 176.3,543.97 186,543.97 187,539.29 190,542.57 192,543.97 300,544.44 440,543.97 442.3,543.51 442.8,549.6" fill="none" stroke="#6ed0e0" stroke-width="1.15" stroke-linejoin="round"/>
<polyline points="176,549.6 176.5,541.63 186,542.1 186.5,549.6" fill="none" stroke="#ba43a9" stroke-width="1.15" stroke-linejoin="round"/>
<polyline points="176,549.6 176.5,512.56 179,514.44 181,512.56 183,515.85 185,513.03 188,513.97 190,510.22 191.7,549.6" fill="none" stroke="#b7dbab" stroke-width="1.15" stroke-linejoin="round"/>
<polyline points="176,549.6 176.5,527.1 179,528.5 181,526.63 183,528.97 186,528.04 190,528.04 191.5,549.6" fill="none" stroke="#eab839" stroke-width="1.15" stroke-linejoin="round"/>
<polyline points="186.2,549.6 186.8,494.28 188.5,492.88 189.5,496.63 191.1,497.56 192,549.6" fill="none" stroke="#705da0" stroke-width="1.15" stroke-linejoin="round"/>
<polyline points="219.4,549.6 220,498.5 222,498.03 223.5,514.44 224.6,549.6" fill="none" stroke="#b7dbab" stroke-width="1.15" stroke-linejoin="round"/>
<polyline points="220,549.6 220.5,528.5 224,528.5 224.5,549.6" fill="none" stroke="#eab839" stroke-width="1.15" stroke-linejoin="round"/>
<polyline points="221.6,549.6 222,453.03 224,453.03 224.8,549.6" fill="none" stroke="#705da0" stroke-width="1.15" stroke-linejoin="round"/>
<polyline points="246,549.6 246.5,453.5 248.8,453.5 249,445.53 251.5,445.53 252.2,549.6" fill="none" stroke="#705da0" stroke-width="1.15" stroke-linejoin="round"/>
<polyline points="247,549.6 247.5,511.16 249.5,509.75 250,462.87 251,462.87 251.8,549.6" fill="none" stroke="#b7dbab" stroke-width="1.15" stroke-linejoin="round"/>
<polyline points="247,549.6 247.5,534.6 251,535.54 251.5,549.6" fill="none" stroke="#e2b4e4" stroke-width="1.15" stroke-linejoin="round"/>
<polygon points="943.4,519.1 943.4,518.7 987.5,518.7 990,517.8 1000,517.8 1002,516.6 1006,517.5 1045,517.1 1045.5,477.34 1047.5,475.6 1050,477.92 1053,476.76 1056,477.57 1059,476.18 1062,479.08 1076,479.08 1077.4,475.02 1079.5,437.9 1080.5,434.42 1083,437.32 1086,438.48 1090,437.32 1092,441.96 1113,441.96 1119.4,443.7 1309.4,443.7 1312,441.38 1313.7,439.06 1315.5,475.02 1317,476.18 1318.5,518.7 1358,518.7 1360.1,516.9 1362,518.7 1405.1,518.7 1405.1,519.1" fill="#7eb26d" fill-opacity="0.1"/>
<polyline points="943.4,518.7 987.5,518.7 990,517.8 1000,517.8 1002,516.6 1006,517.5 1045,517.1 1045.5,477.34 1047.5,475.6 1050,477.92 1053,476.76 1056,477.57 1059,476.18 1062,479.08 1076,479.08 1077.4,475.02 1079.5,437.9 1080.5,434.42 1083,437.32 1086,438.48 1090,437.32 1092,441.96 1113,441.96 1119.4,443.7 1309.4,443.7 1312,441.38 1313.7,439.06 1315.5,475.02 1317,476.18 1318.5,518.7 1358,518.7 1360.1,516.9 1362,518.7 1405.1,518.7" fill="none" stroke="#7eb26d" stroke-width="1.15" stroke-linejoin="round"/>
<polygon points="1497.5,519.5 1497.5,502 1521.4,502 1522.6,498.71 1539.9,498.71 1541.1,496.53 1542.8,496.53 1544,491.06 1547.8,491.06 1549,486.68 1555.6,486.68 1556.8,480.12 1567,480.12 1568.2,474.65 1599.2,474.65 1600.4,469.18 1615.5,469.18 1616.7,468.08 1634,468.08 1635.2,451.67 1873.4,451.67 1874.6,448.39 1916.3,448.39 1917.5,502.65 1918.8,502.65 1920,502 1963.8,502 1963.8,519.5" fill="#7eb26d" fill-opacity="0.1"/>
<polyline points="1497.5,502 1521.4,502 1522.6,498.71 1539.9,498.71 1541.1,496.53 1542.8,496.53 1544,491.06 1547.8,491.06 1549,486.68 1555.6,486.68 1556.8,480.12 1567,480.12 1568.2,474.65 1599.2,474.65 1600.4,469.18 1615.5,469.18 1616.7,468.08 1634,468.08 1635.2,451.67 1873.4,451.67 1874.6,448.39 1916.3,448.39 1917.5,502.65 1918.8,502.65 1920,502 1963.8,502" fill="none" stroke="#7eb26d" stroke-width="1.15" stroke-linejoin="round"/>
<polyline points="152.2,762.7 494.7,762.7" fill="none" stroke="#e2b4e4" stroke-width="1.15" stroke-linejoin="round"/>
<polyline points="255.5,645 429.8,645 430.3,762.7" fill="none" stroke="#335a8a" stroke-width="1.15" stroke-linejoin="round"/>
<polyline points="186.8,762.7 187,645 196,645 196.3,762.7" fill="none" stroke="#b7dbab" stroke-width="1.15" stroke-linejoin="round"/>
<polyline points="195.5,762.7 195.9,645 200,645 200.3,762.7" fill="none" stroke="#82b5d8" stroke-width="1.15" stroke-linejoin="round"/>
<polyline points="197,762.7 197.3,645 199,645 199.3,762.7" fill="none" stroke="#447ebc" stroke-width="1.15" stroke-linejoin="round"/>
<polyline points="200,645 226.7,645" fill="none" stroke="#e24d42" stroke-width="1.15" stroke-linejoin="round"/>
<polyline points="226.5,762.7 226.7,645 230.2,645 230.5,762.7" fill="none" stroke="#70dbed" stroke-width="1.15" stroke-linejoin="round"/>
<polyline points="228,762.7 228.2,645 229.5,645 229.8,762.7" fill="none" stroke="#6ed0e0" stroke-width="1.15" stroke-linejoin="round"/>
<polyline points="248,762.7 248.2,645 250,645" fill="none" stroke="#6b2a2a" stroke-width="1" stroke-linejoin="round"/>
<polyline points="250.8,762.7 251,645 255.5,645 255.7,762.7" fill="none" stroke="#e2b4e4" stroke-width="1.15" stroke-linejoin="round"/>
<polyline points="252.5,762.7 252.7,645 254,645 254.2,762.7" fill="none" stroke="#e2b4e4" stroke-width="1.15" stroke-linejoin="round"/>
<polyline points="926.4,762.7 1470.7,762.7" fill="none" stroke="#e2b4e4" stroke-width="1.15" stroke-linejoin="round"/>
<polyline points="1051,751.89 1367.5,751.89 1368.2,762.7" fill="none" stroke="#335a8a" stroke-width="1.15" stroke-linejoin="round"/>
<polyline points="1002.4,751.89 1043.6,751.89" fill="none" stroke="#e24d42" stroke-width="1.15" stroke-linejoin="round"/>
<polyline points="980.4,762.7 982,739.67 998.2,739.67 999.8,720.4 1001.3,720.4 1002.6,762.7" fill="none" stroke="#f4d598" stroke-width="1.15" stroke-linejoin="round"/>
<polyline points="981,762.7 982,739.67 984,751.89" fill="none" stroke="#eab839" stroke-width="1.15" stroke-linejoin="round"/>
<polyline points="995.9,762.7 996.5,706.3 1001.8,706.3 1003,762.7" fill="none" stroke="#705da0" stroke-width="1.15" stroke-linejoin="round"/>
<polyline points="995.5,762.7 996,749.78 998,751.89 1002,751.89 1002.6,762.7" fill="none" stroke="#82b5d8" stroke-width="1.15" stroke-linejoin="round"/>
<polyline points="1043.6,762.7 1044.2,706.3 1047.3,706.3 1048,739.2 1050.2,739.2 1051.2,762.7" fill="none" stroke="#b7dbab" stroke-width="1.15" stroke-linejoin="round"/>
<polyline points="1047.3,762.7 1048,671.05 1050.4,671.05 1051.2,762.7" fill="none" stroke="#705da0" stroke-width="1.15" stroke-linejoin="round"/>
<polyline points="1046,762.7 1047,751.89 1050,751.89 1051,762.7" fill="none" stroke="#82b5d8" stroke-width="1.15" stroke-linejoin="round"/>
<polyline points="1083.3,762.7 1083.8,668.7 1086.4,668.7 1086.8,661.65 1089.6,661.65 1091,762.7" fill="none" stroke="#705da0" stroke-width="1.15" stroke-linejoin="round"/>
<polyline points="1085.5,762.7 1086,739.67 1087,706.3 1089,706.3 1089.5,739.67 1090.5,762.7" fill="none" stroke="#b7dbab" stroke-width="1.15" stroke-linejoin="round"/>
<polyline points="1083.3,762.7 1084,739.67 1089,739.67 1090.5,762.7" fill="none" stroke="#f4d598" stroke-width="1.15" stroke-linejoin="round"/>
<polyline points="1083.3,762.7 1084,751.89 1089,751.89 1090.5,762.7" fill="none" stroke="#e2b4e4" stroke-width="1.15" stroke-linejoin="round"/>
<polyline points="138.8,1103.8 1437.6,1103.8" fill="none" stroke="#e2b4e4" stroke-width="1.15" stroke-linejoin="round"/>
<polyline points="434,1079.28 1191.8,1078.79 1193.6,1103.8" fill="none" stroke="#335a8a" stroke-width="1.15" stroke-linejoin="round"/>
<polyline points="267.7,1103.8 268.5,1078.3 276,1079.28 418.3,1079.28 419,1103.8" fill="none" stroke="#e24d42" stroke-width="1.15" stroke-linejoin="round"/>
<polyline points="311,1079.28 313,1066.53 316,1066.53 317,1079.28" fill="none" stroke="#890f02" stroke-width="1.15" stroke-linejoin="round"/>
<polyline points="267.7,1103.8 270,1062.61 272,1055.74 274,1054.76 276.5,1079.28" fill="none" stroke="#eab839" stroke-width="1.15" stroke-linejoin="round"/>
<polyline points="267.7,1103.8 268.8,1030.24 311.2,1030.24 313.9,1024.36 318,1024.36 320.7,1103.8" fill="none" stroke="#b7dbab" stroke-width="1.15" stroke-linejoin="round"/>
<polyline points="304.4,1103.8 305.2,932.16 318,932.16 320,1103.8" fill="none" stroke="#705da0" stroke-width="1.15" stroke-linejoin="round"/>
<polyline points="304.4,1103.8 305.5,1075.36 308,1077.32 318,1079.28 320,1103.8" fill="none" stroke="#70dbed" stroke-width="1.15" stroke-linejoin="round"/>
<polyline points="419,1103.8 420,932.16 424.5,932.16 426.8,1027.3 432.8,1027.3 434.3,1103.8" fill="none" stroke="#b7dbab" stroke-width="1.15" stroke-linejoin="round"/>
<polyline points="426.8,1103.8 428,911.56 433,909.6 434.5,1103.8" fill="none" stroke="#705da0" stroke-width="1.15" stroke-linejoin="round"/>
<polyline points="426.8,1103.8 428,1058.68 430,1054.76" fill="none" stroke="#508642" stroke-width="1.15" stroke-linejoin="round"/>
<polyline points="426.8,1103.8 428,1078.3 433,1078.3 434.3,1103.8" fill="none" stroke="#70dbed" stroke-width="1.15" stroke-linejoin="round"/>
<polyline points="513.5,1103.8 514.5,907.64 519.3,907.64 521.3,893.91 526.5,893.91 528.1,1103.8" fill="none" stroke="#705da0" stroke-width="1.15" stroke-linejoin="round"/>
<polyline points="514.5,1103.8 515,1029.26 520.5,1029.26 521.5,932.16 526,932.16 527.6,1103.8" fill="none" stroke="#b7dbab" stroke-width="1.15" stroke-linejoin="round"/>
<polyline points="520,1103.8 520.5,1029.26 526.5,1029.26 527.5,1103.8" fill="none" stroke="#82b5d8" stroke-width="1.15" stroke-linejoin="round"/>
<polyline points="514.5,1103.8 515.5,1078.3 520,1078.3 521,1073.4 526,1073.4 527,1103.8" fill="none" stroke="#f29191" stroke-width="1.15" stroke-linejoin="round"/>
<polyline points="521,1042.01 526,1042.01" fill="none" stroke="#cca300" stroke-width="1.15" stroke-linejoin="round"/>
<polyline points="521,1054.76 526,1054.76" fill="none" stroke="#eab839" stroke-width="1.15" stroke-linejoin="round"/>
<polyline points="520,1103.8 521,1077.32 526,1077.32 527,1103.8" fill="none" stroke="#e2b4e4" stroke-width="1.15" stroke-linejoin="round"/>
<polyline points="939.3,179.2 943.0,183.0 946.7,179.2" fill="none" stroke="#3ea7e8" stroke-width="1.5"/>
<text x="933.5" y="186.3" font-size="13.5" fill="#3ea7e8" text-anchor="end" stroke="#3ea7e8" stroke-width="0.45">avg</text>
<text x="1007" y="186.3" font-size="13.5" fill="#3ea7e8" text-anchor="end" stroke="#3ea7e8" stroke-width="0.45">current</text>
<rect x="657.7" y="206.2" width="12.7" height="1.9" fill="#6ed0e0"/>
<text x="681" y="211.8" font-size="13.5" fill="#c7d0d9" stroke="#c7d0d9" stroke-width="0.22">GET /api/fleet/entry</text>
<text x="952" y="211.8" font-size="13.5" fill="#c7d0d9" text-anchor="end" stroke="#c7d0d9" stroke-width="0.22">186</text>
<text x="1007" y="211.8" font-size="13.5" fill="#c7d0d9" text-anchor="end" stroke="#c7d0d9" stroke-width="0.22">0</text>
<rect x="644" y="221.2" width="373.5" height="27.6" fill="#1c1d22" rx="2"/>
<rect x="657.7" y="234.2" width="12.7" height="1.9" fill="#e24d42"/>
<text x="681" y="239.8" font-size="13.5" fill="#c7d0d9" stroke="#c7d0d9" stroke-width="0.22">GET /api/sector/entry</text>
<text x="952" y="239.8" font-size="13.5" fill="#c7d0d9" text-anchor="end" stroke="#c7d0d9" stroke-width="0.22">23</text>
<text x="1007" y="239.8" font-size="13.5" fill="#c7d0d9" text-anchor="end" stroke="#c7d0d9" stroke-width="0.22">0</text>
<rect x="657.7" y="262.2" width="12.7" height="1.9" fill="#2a4f80"/>
<text x="681" y="267.8" font-size="13.5" fill="#c7d0d9" stroke="#c7d0d9" stroke-width="0.22">POST /api/fleet/position</text>
<text x="952" y="267.8" font-size="13.5" fill="#c7d0d9" text-anchor="end" stroke="#c7d0d9" stroke-width="0.22">2</text>
<text x="1007" y="267.8" font-size="13.5" fill="#c7d0d9" text-anchor="end" stroke="#c7d0d9" stroke-width="0.22">0</text>
<rect x="644" y="277.2" width="373.5" height="27.6" fill="#1c1d22" rx="2"/>
<rect x="657.7" y="290.2" width="12.7" height="1.9" fill="#70dbed"/>
<text x="681" y="295.8" font-size="13.5" fill="#c7d0d9" stroke="#c7d0d9" stroke-width="0.22">POST /api/ship/entry</text>
<text x="952" y="295.8" font-size="13.5" fill="#c7d0d9" text-anchor="end" stroke="#c7d0d9" stroke-width="0.22">0</text>
<text x="1007" y="295.8" font-size="13.5" fill="#c7d0d9" text-anchor="end" stroke="#c7d0d9" stroke-width="0.22">0</text>
<rect x="657.7" y="318.2" width="12.7" height="1.9" fill="#7a6aa8"/>
<text x="681" y="323.8" font-size="13.5" fill="#c7d0d9" stroke="#c7d0d9" stroke-width="0.22">POST /api/fleet/member</text>
<text x="952" y="323.8" font-size="13.5" fill="#c7d0d9" text-anchor="end" stroke="#c7d0d9" stroke-width="0.22">0</text>
<text x="1007" y="323.8" font-size="13.5" fill="#c7d0d9" text-anchor="end" stroke="#c7d0d9" stroke-width="0.22">0</text>
<rect x="644" y="333.2" width="373.5" height="27.6" fill="#1c1d22" rx="2"/>
<rect x="657.7" y="346.2" width="12.7" height="1.9" fill="#f9ba8f"/>
<text x="681" y="351.8" font-size="13.5" fill="#c7d0d9" stroke="#c7d0d9" stroke-width="0.22">POST /api/ship/weapons</text>
<text x="952" y="351.8" font-size="13.5" fill="#c7d0d9" text-anchor="end" stroke="#c7d0d9" stroke-width="0.22">0</text>
<text x="1007" y="351.8" font-size="13.5" fill="#c7d0d9" text-anchor="end" stroke="#c7d0d9" stroke-width="0.22">0</text>
<clipPath id="c337"><rect x="500" y="420" width="370" height="153.5"/></clipPath>
<g clip-path="url(#c337)">
<text x="847.8" y="442.5" font-size="13.5" fill="#3ea7e8" text-anchor="end" stroke="#3ea7e8" stroke-width="0.45">current</text>
<rect x="550.2" y="461.2" width="12.4" height="1.9" fill="#7eb26d"/>
<text x="573.3" y="466.8" font-size="13.5" fill="#c7d0d9" stroke="#c7d0d9" stroke-width="0.22">DELETE /api/fleet/member</text>
<text x="847.8" y="466.8" font-size="13.5" fill="#c7d0d9" text-anchor="end" stroke="#c7d0d9" stroke-width="0.22">0 s</text>
<rect x="536.3" y="476.2" width="322.3" height="27.6" fill="#1c1d22" rx="2"/>
<rect x="550.2" y="489.2" width="12.4" height="1.9" fill="#eab839"/>
<text x="573.3" y="494.8" font-size="13.5" fill="#c7d0d9" stroke="#c7d0d9" stroke-width="0.22">DELETE /api/sector/member</text>
<text x="847.8" y="494.8" font-size="13.5" fill="#c7d0d9" text-anchor="end" stroke="#c7d0d9" stroke-width="0.22">0 s</text>
<rect x="550.2" y="517.2" width="12.4" height="1.9" fill="#6ed0e0"/>
<text x="573.3" y="522.8" font-size="13.5" fill="#c7d0d9" stroke="#c7d0d9" stroke-width="0.22">GET /api/fleet/entry</text>
<text x="847.8" y="522.8" font-size="13.5" fill="#c7d0d9" text-anchor="end" stroke="#c7d0d9" stroke-width="0.22">0 s</text>
<rect x="536.3" y="532.2" width="322.3" height="27.6" fill="#1c1d22" rx="2"/>
<rect x="550.2" y="545.2" width="12.4" height="1.9" fill="#ef843c"/>
<text x="573.3" y="550.8" font-size="13.5" fill="#c7d0d9" stroke="#c7d0d9" stroke-width="0.22">GET /api/player/entry</text>
<text x="847.8" y="550.8" font-size="13.5" fill="#c7d0d9" text-anchor="end" stroke="#c7d0d9" stroke-width="0.22">0 s</text>
<rect x="550.2" y="573.2" width="12.4" height="1.9" fill="#e24d42"/>
<text x="573.3" y="578.8" font-size="13.5" fill="#c7d0d9" stroke="#c7d0d9" stroke-width="0.22">GET /api/sector/entry</text>
<text x="847.8" y="578.8" font-size="13.5" fill="#c7d0d9" text-anchor="end" stroke="#c7d0d9" stroke-width="0.22">0 s</text>
</g>
<clipPath id="c358"><rect x="500" y="630" width="370" height="157"/></clipPath>
<g clip-path="url(#c358)">
<polyline points="835.4,648.2 839.1,652.0 842.8,648.2" fill="none" stroke="#3ea7e8" stroke-width="1.5"/>
<text x="829.6" y="655.3" font-size="13.5" fill="#3ea7e8" text-anchor="end" stroke="#3ea7e8" stroke-width="0.45">current</text>
<rect x="532.2" y="675.6" width="12.3" height="1.9" fill="#e2b4e4"/>
<text x="555.6" y="681.2" font-size="13.5" fill="#c7d0d9" stroke="#c7d0d9" stroke-width="0.22">PUT /api/player/entry</text>
<text x="847.5" y="681.2" font-size="13.5" fill="#c7d0d9" text-anchor="end" stroke="#c7d0d9" stroke-width="0.22">0%</text>
<rect x="519.1" y="690.7" width="339.7" height="27.6" fill="#1c1d22" rx="2"/>
<rect x="532.2" y="703.7" width="12.3" height="1.9" fill="#82b5d8"/>
<text x="555.6" y="709.3" font-size="13.5" fill="#c7d0d9" stroke="#c7d0d9" stroke-width="0.22">PUT /api/fleet/hp</text>
<text x="847.5" y="709.3" font-size="13.5" fill="#c7d0d9" text-anchor="end" stroke="#c7d0d9" stroke-width="0.22">0%</text>
<rect x="532.2" y="731.6" width="12.3" height="1.9" fill="#f29191"/>
<text x="555.6" y="737.2" font-size="13.5" fill="#c7d0d9" stroke="#c7d0d9" stroke-width="0.22">POST /api/weapon/entry</text>
<text x="847.5" y="737.2" font-size="13.5" fill="#c7d0d9" text-anchor="end" stroke="#c7d0d9" stroke-width="0.22">0%</text>
<rect x="519.1" y="746.5" width="339.7" height="27.6" fill="#1c1d22" rx="2"/>
<rect x="532.2" y="759.5" width="12.3" height="1.9" fill="#f9ba8f"/>
<text x="555.6" y="765.1" font-size="13.5" fill="#c7d0d9" stroke="#c7d0d9" stroke-width="0.22">POST /api/ship/weapons</text>
<text x="847.5" y="765.1" font-size="13.5" fill="#c7d0d9" text-anchor="end" stroke="#c7d0d9" stroke-width="0.22">0%</text>
<rect x="532.2" y="787.4" width="12.3" height="1.9" fill="#70dbed"/>
<text x="555.6" y="793" font-size="13.5" fill="#c7d0d9" stroke="#c7d0d9" stroke-width="0.22">POST /api/ship/entry</text>
<text x="847.5" y="793" font-size="13.5" fill="#c7d0d9" text-anchor="end" stroke="#c7d0d9" stroke-width="0.22">0%</text>
</g>
<clipPath id="c380"><rect x="1490" y="630" width="490" height="157"/></clipPath>
<g clip-path="url(#c380)">
<text x="1786.6" y="655.8" font-size="13.5" fill="#3ea7e8" text-anchor="end" stroke="#3ea7e8" stroke-width="0.45">min</text>
<polyline points="1836.1,648.7 1839.8,652.5 1843.5,648.7" fill="none" stroke="#3ea7e8" stroke-width="1.5"/>
<text x="1830.3" y="655.8" font-size="13.5" fill="#3ea7e8" text-anchor="end" stroke="#3ea7e8" stroke-width="0.45">max</text>
<text x="1909.5" y="655.8" font-size="13.5" fill="#3ea7e8" text-anchor="end" stroke="#3ea7e8" stroke-width="0.45">avg</text>
<text x="1965" y="655.8" font-size="13.5" fill="#3ea7e8" text-anchor="end" stroke="#3ea7e8" stroke-width="0.45">current</text>
<rect x="1508" y="675.5" width="12.3" height="1.9" fill="#705da0"/>
<text x="1531.2" y="681.1" font-size="13.5" fill="#c7d0d9" stroke="#c7d0d9" stroke-width="0.22">POST /api/fleet/member</text>
<text x="1786.6" y="681.1" font-size="13.5" fill="#c7d0d9" text-anchor="end" stroke="#c7d0d9" stroke-width="0.22">0</text>
<text x="1847.9" y="681.1" font-size="13.5" fill="#c7d0d9" text-anchor="end" stroke="#c7d0d9" stroke-width="0.22">0.043</text>
<text x="1909.5" y="681.1" font-size="13.5" fill="#c7d0d9" text-anchor="end" stroke="#c7d0d9" stroke-width="0.22">0.001</text>
<text x="1965" y="681.1" font-size="13.5" fill="#c7d0d9" text-anchor="end" stroke="#c7d0d9" stroke-width="0.22">0</text>
<rect x="1495" y="690.6" width="480.3" height="27.6" fill="#1c1d22" rx="2"/>
<rect x="1508" y="703.6" width="12.3" height="1.9" fill="#b7dbab"/>
<text x="1531.2" y="709.2" font-size="13.5" fill="#c7d0d9" stroke="#c7d0d9" stroke-width="0.22">POST /api/sector/member</text>
<text x="1786.6" y="709.2" font-size="13.5" fill="#c7d0d9" text-anchor="end" stroke="#c7d0d9" stroke-width="0.22">0</text>
<text x="1847.9" y="709.2" font-size="13.5" fill="#c7d0d9" text-anchor="end" stroke="#c7d0d9" stroke-width="0.22">0.024</text>
<text x="1909.5" y="709.2" font-size="13.5" fill="#c7d0d9" text-anchor="end" stroke="#c7d0d9" stroke-width="0.22">0.001</text>
<text x="1965" y="709.2" font-size="13.5" fill="#c7d0d9" text-anchor="end" stroke="#c7d0d9" stroke-width="0.22">0</text>
<rect x="1508" y="731.4" width="12.3" height="1.9" fill="#7eb26d"/>
<text x="1531.2" y="737" font-size="13.5" fill="#c7d0d9" stroke="#c7d0d9" stroke-width="0.22">DELETE /api/fleet/member</text>
<text x="1786.6" y="737" font-size="13.5" fill="#c7d0d9" text-anchor="end" stroke="#c7d0d9" stroke-width="0.22">0</text>
<text x="1847.9" y="737" font-size="13.5" fill="#c7d0d9" text-anchor="end" stroke="#c7d0d9" stroke-width="0.22">0.024</text>
<text x="1909.5" y="737" font-size="13.5" fill="#c7d0d9" text-anchor="end" stroke="#c7d0d9" stroke-width="0.22">0.000</text>
<text x="1965" y="737" font-size="13.5" fill="#c7d0d9" text-anchor="end" stroke="#c7d0d9" stroke-width="0.22">0</text>
<rect x="1495" y="746.5" width="480.3" height="27.6" fill="#1c1d22" rx="2"/>
<rect x="1508" y="759.5" width="12.3" height="1.9" fill="#eab839"/>
<text x="1531.2" y="765.1" font-size="13.5" fill="#c7d0d9" stroke="#c7d0d9" stroke-width="0.22">DELETE /api/sector/member</text>
<text x="1786.6" y="765.1" font-size="13.5" fill="#c7d0d9" text-anchor="end" stroke="#c7d0d9" stroke-width="0.22">0</text>
<text x="1847.9" y="765.1" font-size="13.5" fill="#c7d0d9" text-anchor="end" stroke="#c7d0d9" stroke-width="0.22">0.018</text>
<text x="1909.5" y="765.1" font-size="13.5" fill="#c7d0d9" text-anchor="end" stroke="#c7d0d9" stroke-width="0.22">0.000</text>
<text x="1965" y="765.1" font-size="13.5" fill="#c7d0d9" text-anchor="end" stroke="#c7d0d9" stroke-width="0.22">0</text>
<rect x="1508" y="787.4" width="12.3" height="1.9" fill="#447ebc"/>
<text x="1531.2" y="793" font-size="13.5" fill="#c7d0d9" stroke="#c7d0d9" stroke-width="0.22">PUT /api/fleet/hp</text>
<text x="1786.6" y="793" font-size="13.5" fill="#c7d0d9" text-anchor="end" stroke="#c7d0d9" stroke-width="0.22">0</text>
<text x="1847.9" y="793" font-size="13.5" fill="#c7d0d9" text-anchor="end" stroke="#c7d0d9" stroke-width="0.22">0.010</text>
<text x="1909.5" y="793" font-size="13.5" fill="#c7d0d9" text-anchor="end" stroke="#c7d0d9" stroke-width="0.22">0.000</text>
<text x="1965" y="793" font-size="13.5" fill="#c7d0d9" text-anchor="end" stroke="#c7d0d9" stroke-width="0.22">0</text>
</g>
<text x="1764" y="868.6" font-size="13.5" fill="#3ea7e8" text-anchor="end" stroke="#3ea7e8" stroke-width="0.45">min</text>
<polyline points="1828.8,861.5 1832.5,865.3 1836.2,861.5" fill="none" stroke="#3ea7e8" stroke-width="1.5"/>
<text x="1823" y="868.6" font-size="13.5" fill="#3ea7e8" text-anchor="end" stroke="#3ea7e8" stroke-width="0.45">max</text>
<text x="1909.9" y="868.6" font-size="13.5" fill="#3ea7e8" text-anchor="end" stroke="#3ea7e8" stroke-width="0.45">avg</text>
<text x="1965" y="868.6" font-size="13.5" fill="#3ea7e8" text-anchor="end" stroke="#3ea7e8" stroke-width="0.45">current</text>
<rect x="1475.6" y="888.8" width="12.6" height="1.9" fill="#705da0"/>
<text x="1498.2" y="894.4" font-size="13.5" fill="#c7d0d9" stroke="#c7d0d9" stroke-width="0.22">POST /api/fleet/member</text>
<text x="1764" y="894.4" font-size="13.5" fill="#c7d0d9" text-anchor="end" stroke="#c7d0d9" stroke-width="0.22">0 s</text>
<text x="1840.4" y="894.4" font-size="13.5" fill="#c7d0d9" text-anchor="end" stroke="#c7d0d9" stroke-width="0.22">21.4 ms</text>
<text x="1909.9" y="894.4" font-size="13.5" fill="#c7d0d9" text-anchor="end" stroke="#c7d0d9" stroke-width="0.22">532 μs</text>
<text x="1965" y="894.4" font-size="13.5" fill="#c7d0d9" text-anchor="end" stroke="#c7d0d9" stroke-width="0.22">0 s</text>
<rect x="1461.8" y="903.8" width="513.6" height="27.6" fill="#1c1d22" rx="2"/>
<rect x="1475.6" y="916.8" width="12.6" height="1.9" fill="#b7dbab"/>
<text x="1498.2" y="922.4" font-size="13.5" fill="#c7d0d9" stroke="#c7d0d9" stroke-width="0.22">POST /api/sector/member</text>
<text x="1764" y="922.4" font-size="13.5" fill="#c7d0d9" text-anchor="end" stroke="#c7d0d9" stroke-width="0.22">0 s</text>
<text x="1840.4" y="922.4" font-size="13.5" fill="#c7d0d9" text-anchor="end" stroke="#c7d0d9" stroke-width="0.22">17.5 ms</text>
<text x="1909.9" y="922.4" font-size="13.5" fill="#c7d0d9" text-anchor="end" stroke="#c7d0d9" stroke-width="0.22">520 μs</text>
<text x="1965" y="922.4" font-size="13.5" fill="#c7d0d9" text-anchor="end" stroke="#c7d0d9" stroke-width="0.22">0 s</text>
<rect x="1475.6" y="944.8" width="12.6" height="1.9" fill="#7eb26d"/>
<text x="1498.2" y="950.4" font-size="13.5" fill="#c7d0d9" stroke="#c7d0d9" stroke-width="0.22">DELETE /api/fleet/member</text>
<text x="1764" y="950.4" font-size="13.5" fill="#c7d0d9" text-anchor="end" stroke="#c7d0d9" stroke-width="0.22">0 s</text>
<text x="1840.4" y="950.4" font-size="13.5" fill="#c7d0d9" text-anchor="end" stroke="#c7d0d9" stroke-width="0.22">17.5 ms</text>
<text x="1909.9" y="950.4" font-size="13.5" fill="#c7d0d9" text-anchor="end" stroke="#c7d0d9" stroke-width="0.22">97 μs</text>
<text x="1965" y="950.4" font-size="13.5" fill="#c7d0d9" text-anchor="end" stroke="#c7d0d9" stroke-width="0.22">0 s</text>
<rect x="1461.8" y="959.8" width="513.6" height="27.6" fill="#1c1d22" rx="2"/>
<rect x="1475.6" y="972.8" width="12.6" height="1.9" fill="#eab839"/>
<text x="1498.2" y="978.4" font-size="13.5" fill="#c7d0d9" stroke="#c7d0d9" stroke-width="0.22">DELETE /api/sector/member</text>
<text x="1764" y="978.4" font-size="13.5" fill="#c7d0d9" text-anchor="end" stroke="#c7d0d9" stroke-width="0.22">0 s</text>
<text x="1840.4" y="978.4" font-size="13.5" fill="#c7d0d9" text-anchor="end" stroke="#c7d0d9" stroke-width="0.22">8.1 ms</text>
<text x="1909.9" y="978.4" font-size="13.5" fill="#c7d0d9" text-anchor="end" stroke="#c7d0d9" stroke-width="0.22">231 μs</text>
<text x="1965" y="978.4" font-size="13.5" fill="#c7d0d9" text-anchor="end" stroke="#c7d0d9" stroke-width="0.22">0 s</text>
<rect x="1475.6" y="1000.8" width="12.6" height="1.9" fill="#5f97cc"/>
<text x="1498.2" y="1006.4" font-size="13.5" fill="#c7d0d9" stroke="#c7d0d9" stroke-width="0.22">PUT /api/fleet/hp</text>
<text x="1764" y="1006.4" font-size="13.5" fill="#c7d0d9" text-anchor="end" stroke="#c7d0d9" stroke-width="0.22">0 s</text>
<text x="1840.4" y="1006.4" font-size="13.5" fill="#c7d0d9" text-anchor="end" stroke="#c7d0d9" stroke-width="0.22">7.5 ms</text>
<text x="1909.9" y="1006.4" font-size="13.5" fill="#c7d0d9" text-anchor="end" stroke="#c7d0d9" stroke-width="0.22">42 μs</text>
<text x="1965" y="1006.4" font-size="13.5" fill="#c7d0d9" text-anchor="end" stroke="#c7d0d9" stroke-width="0.22">0 s</text>
<rect x="1461.8" y="1015.8" width="513.6" height="27.6" fill="#1c1d22" rx="2"/>
<rect x="1475.6" y="1028.8" width="12.6" height="1.9" fill="#cca300"/>
<text x="1498.2" y="1034.4" font-size="13.5" fill="#c7d0d9" stroke="#c7d0d9" stroke-width="0.22">POST /api/fleet/orders/add/move</text>
<text x="1764" y="1034.4" font-size="13.5" fill="#c7d0d9" text-anchor="end" stroke="#c7d0d9" stroke-width="0.22">0 s</text>
<text x="1840.4" y="1034.4" font-size="13.5" fill="#c7d0d9" text-anchor="end" stroke="#c7d0d9" stroke-width="0.22">5.0 ms</text>
<text x="1909.9" y="1034.4" font-size="13.5" fill="#c7d0d9" text-anchor="end" stroke="#c7d0d9" stroke-width="0.22">69 μs</text>
<text x="1965" y="1034.4" font-size="13.5" fill="#c7d0d9" text-anchor="end" stroke="#c7d0d9" stroke-width="0.22">0 s</text>
<rect x="1475.6" y="1056.8" width="12.6" height="1.9" fill="#508642"/>
<text x="1498.2" y="1062.4" font-size="13.5" fill="#c7d0d9" stroke="#c7d0d9" stroke-width="0.22">POST /api/fleet/orders/add/jump</text>
<text x="1764" y="1062.4" font-size="13.5" fill="#c7d0d9" text-anchor="end" stroke="#c7d0d9" stroke-width="0.22">0 s</text>
<text x="1840.4" y="1062.4" font-size="13.5" fill="#c7d0d9" text-anchor="end" stroke="#c7d0d9" stroke-width="0.22">5.0 ms</text>
<text x="1909.9" y="1062.4" font-size="13.5" fill="#c7d0d9" text-anchor="end" stroke="#c7d0d9" stroke-width="0.22">40 μs</text>
<text x="1965" y="1062.4" font-size="13.5" fill="#c7d0d9" text-anchor="end" stroke="#c7d0d9" stroke-width="0.22">0 s</text>
<rect x="1461.8" y="1071.8" width="513.6" height="27.6" fill="#1c1d22" rx="2"/>
<rect x="1475.6" y="1084.8" width="12.6" height="1.9" fill="#890f02"/>
<text x="1498.2" y="1090.4" font-size="13.5" fill="#c7d0d9" stroke="#c7d0d9" stroke-width="0.22">POST /api/fleet/orders/clear_index</text>
<text x="1764" y="1090.4" font-size="13.5" fill="#c7d0d9" text-anchor="end" stroke="#c7d0d9" stroke-width="0.22">0 s</text>
<text x="1840.4" y="1090.4" font-size="13.5" fill="#c7d0d9" text-anchor="end" stroke="#c7d0d9" stroke-width="0.22">3.8 ms</text>
<text x="1909.9" y="1090.4" font-size="13.5" fill="#c7d0d9" text-anchor="end" stroke="#c7d0d9" stroke-width="0.22">50 μs</text>
<text x="1965" y="1090.4" font-size="13.5" fill="#c7d0d9" text-anchor="end" stroke="#c7d0d9" stroke-width="0.22">0 s</text>
<rect x="1475.6" y="1112.8" width="12.6" height="1.9" fill="#e5b040"/>
<text x="1498.2" y="1118.4" font-size="13.5" fill="#c7d0d9" stroke="#c7d0d9" stroke-width="0.22">POST /api/sector/team</text>
<text x="1764" y="1118.4" font-size="13.5" fill="#c7d0d9" text-anchor="end" stroke="#c7d0d9" stroke-width="0.22">0 s</text>
<text x="1840.4" y="1118.4" font-size="13.5" fill="#c7d0d9" text-anchor="end" stroke="#c7d0d9" stroke-width="0.22">3.2 ms</text>
<text x="1909.9" y="1118.4" font-size="13.5" fill="#c7d0d9" text-anchor="end" stroke="#c7d0d9" stroke-width="0.22">32 μs</text>
<text x="1965" y="1118.4" font-size="13.5" fill="#c7d0d9" text-anchor="end" stroke="#c7d0d9" stroke-width="0.22">0 s</text>
<rect x="1067" y="348.7" width="12" height="1.9" fill="#ef843c"/>
<text x="1087" y="354.3" font-size="13.5" fill="#c7d0d9" letter-spacing="-0.15" xml:space="preserve" stroke="#c7d0d9" stroke-width="0.22">errors  Max: 3.000  Avg: 2.538  Current:</text>
<rect x="1546.3" y="325.5" width="12" height="1.9" fill="#7eb26d"/>
<text x="1565.9" y="331" font-size="13.5" fill="#c7d0d9" letter-spacing="-0.15" xml:space="preserve" stroke="#c7d0d9" stroke-width="0.22">HTTP 200  Max: 46.1 K  Avg: 31.8 K</text>
<rect x="1546.3" y="349" width="12" height="1.9" fill="#eab839"/>
<text x="1565.9" y="354.5" font-size="13.5" fill="#c7d0d9" letter-spacing="-0.15" xml:space="preserve" stroke="#c7d0d9" stroke-width="0.22">HTTP 406  Max: 120  Avg: 102</text>
<rect x="1758.6" y="349" width="12" height="1.9" fill="#e24d42"/>
<text x="1778" y="354.5" font-size="13.5" fill="#c7d0d9" letter-spacing="-0.15" xml:space="preserve" stroke="#c7d0d9" stroke-width="0.22">HTTP 500  Max: 240  Avg: 203</text>
<rect x="907.7" y="562.2" width="12.2" height="1.9" fill="#7eb26d"/>
<text x="927.4" y="567.7" font-size="13.5" fill="#c7d0d9" letter-spacing="-0.15" xml:space="preserve" stroke="#c7d0d9" stroke-width="0.22">cpu  Max: 73.050%  Current: 0.033%</text>
<rect x="1466.5" y="562.3" width="11.9" height="1.9" fill="#7eb26d"/>
<text x="1486.4" y="567.8" font-size="13.5" fill="#c7d0d9" letter-spacing="-0.15" xml:space="preserve" stroke="#c7d0d9" stroke-width="0.22">mem  Current: 50.807 MB</text>
<defs><linearGradient id="shd" x1="0" x2="1" y1="0" y2="0"><stop offset="0" stop-color="#000" stop-opacity="0.75"/><stop offset="1" stop-color="#000" stop-opacity="0"/></linearGradient><linearGradient id="logo" x1="0" x2="0" y1="0" y2="1"><stop offset="0" stop-color="#f04e2e"/><stop offset="0.45" stop-color="#f78a1e"/><stop offset="1" stop-color="#fcc80e"/></linearGradient></defs>
<polygon points="32.60,8.60 36.59,13.11 42.80,12.00 42.91,18.45 46.80,22.60 44.63,27.31 46.00,32.60 40.52,34.84 38.40,40.80 31.37,38.19 24.20,39.80 21.56,33.21 16.40,28.60 19.19,22.03 19.40,14.80 26.67,13.26" fill="url(#logo)" stroke="url(#logo)" stroke-width="2.6" stroke-linejoin="round"/>
<path d="M 42.18 22.12 A 8.50 8.50 0 1 1 40.62 19.61" fill="none" stroke="#15161b" stroke-width="3.0"/>
<circle cx="34.6" cy="26.9" r="3.4" fill="#15161b"/>
<path d="M 35.6 28.2 Q 37.8 30.6 40.0 31.2" fill="none" stroke="#15161b" stroke-width="2.8"/>
<circle cx="33.4" cy="125.3" r="8.6" fill="none" stroke="#c0c6ce" stroke-width="2" stroke-linecap="round" stroke-linejoin="round"/>
<line x1="39.6" y1="131.5" x2="44.5" y2="136.4" fill="none" stroke="#c0c6ce" stroke-width="2" stroke-linecap="round" stroke-linejoin="round"/>
<line x1="25.6" y1="175.7" x2="43.6" y2="175.7" fill="none" stroke="#c0c6ce" stroke-width="2" stroke-linecap="round" stroke-linejoin="round"/>
<line x1="34.6" y1="166.7" x2="34.6" y2="184.7" fill="none" stroke="#c0c6ce" stroke-width="2" stroke-linecap="round" stroke-linejoin="round"/>
<rect x="24.6" y="215.2" width="8.2" height="8.2" fill="none" stroke="#c0c6ce" stroke-width="2" />
<rect x="24.6" y="227.6" width="8.2" height="8.2" fill="none" stroke="#c0c6ce" stroke-width="2" />
<rect x="37.0" y="215.2" width="8.2" height="8.2" fill="none" stroke="#c0c6ce" stroke-width="2" />
<rect x="37.0" y="227.6" width="8.2" height="8.2" fill="none" stroke="#c0c6ce" stroke-width="2" />
<circle cx="34.5" cy="274.6" r="10" fill="none" stroke="#c0c6ce" stroke-width="2" stroke-linecap="round" stroke-linejoin="round"/>
<polygon points="38.6,270.5 36.6,276.6 30.4,278.7 32.4,272.5" fill="none" stroke="#c0c6ce" stroke-width="1.2" stroke-linejoin="round"/>
<path d="M38.6,270.5 L32.4,272.5 L30.4,278.7 Z" fill="#c0c6ce"/>
<line x1="42.70" y1="274.60" x2="41.10" y2="274.60" stroke="#c0c6ce" stroke-width="1.4"/>
<line x1="34.50" y1="282.80" x2="34.50" y2="281.20" stroke="#c0c6ce" stroke-width="1.4"/>
<line x1="26.30" y1="274.60" x2="27.90" y2="274.60" stroke="#c0c6ce" stroke-width="1.4"/>
<line x1="34.50" y1="266.40" x2="34.50" y2="268.00" stroke="#c0c6ce" stroke-width="1.4"/>
<path d="M27.5,329.5 L27.5,322 a7 7 0 0 1 14 0 L41.5,329.5" fill="none" stroke="#c0c6ce" stroke-width="2" stroke-linecap="round" stroke-linejoin="round"/>
<rect x="25.5" y="328.8" width="18" height="4.2" rx="1.2" fill="none" stroke="#c0c6ce" stroke-width="2" stroke-linecap="round" stroke-linejoin="round"/>
<path d="M31.3,333.5 a3.2 3.2 0 0 0 6.4 0" fill="none" stroke="#c0c6ce" stroke-width="2" stroke-linecap="round" stroke-linejoin="round"/>
<line x1="34.5" y1="313.6" x2="34.5" y2="315" fill="none" stroke="#c0c6ce" stroke-width="2" stroke-linecap="round" stroke-linejoin="round"/>
<polygon points="44.61,371.45 44.61,375.35 41.78,375.57 41.19,377.01 43.03,379.18 40.28,381.93 38.11,380.09 36.67,380.68 36.45,383.51 32.55,383.51 32.33,380.68 30.89,380.09 28.72,381.93 25.97,379.18 27.81,377.01 27.22,375.57 24.39,375.35 24.39,371.45 27.22,371.23 27.81,369.79 25.97,367.62 28.72,364.87 30.89,366.71 32.33,366.12 32.55,363.29 36.45,363.29 36.67,366.12 38.11,366.71 40.28,364.87 43.03,367.62 41.19,369.79 41.78,371.23" fill="none" stroke="#c0c6ce" stroke-width="1.9" stroke-linejoin="round"/>
<circle cx="34.5" cy="373.4" r="3.3" fill="none" stroke="#c0c6ce" stroke-width="2" stroke-linecap="round" stroke-linejoin="round"/>
<path d="M43.3,1065.2 A10.2 10.2 0 1 0 43.3 1076.6" fill="none" stroke="#c0c6ce" stroke-width="2" stroke-linecap="round" stroke-linejoin="round"/>
<line x1="29.8" y1="1070.9" x2="45.8" y2="1070.9" fill="none" stroke="#c0c6ce" stroke-width="2" stroke-linecap="round" stroke-linejoin="round"/>
<polyline points="34.4,1066.2 29.8,1070.9 34.4,1075.6" fill="none" stroke="#c0c6ce" stroke-width="2" stroke-linecap="round" stroke-linejoin="round"/>
<circle cx="34.5" cy="1120.2" r="10.3" fill="none" stroke="#c0c6ce" stroke-width="2" stroke-linecap="round" stroke-linejoin="round"/>
<path d="M31.5,1117.4 a3 3 0 1 1 4.2 2.8 c-0.9,0.4 -1.2,1 -1.2,2" fill="none" stroke="#c0c6ce" stroke-width="1.9" stroke-linecap="round"/>
<circle cx="34.5" cy="1125.6" r="1.2" fill="#c0c6ce"/>
<rect x="87.9" y="19.4" width="5.9" height="5.9" fill="none" stroke="#d8d9da" stroke-width="1.6"/>
<rect x="87.9" y="28.7" width="5.9" height="5.9" fill="none" stroke="#d8d9da" stroke-width="1.6"/>
<rect x="97.3" y="19.4" width="5.9" height="5.9" fill="none" stroke="#d8d9da" stroke-width="1.6"/>
<rect x="97.3" y="28.7" width="5.9" height="5.9" fill="none" stroke="#d8d9da" stroke-width="1.6"/>
<text x="114.4" y="33.3" font-size="20" fill="#d8d9da" letter-spacing="0.1" stroke="#d8d9da" stroke-width="0.22">API stats</text>
<circle cx="217" cy="25.3" r="2.4" fill="none" stroke="#d8d9da" stroke-width="1.6"/>
<circle cx="227" cy="19.9" r="2.4" fill="none" stroke="#d8d9da" stroke-width="1.6"/>
<circle cx="227" cy="30.8" r="2.4" fill="none" stroke="#d8d9da" stroke-width="1.6"/>
<line x1="219.2" y1="24" x2="224.8" y2="21.1" stroke="#d8d9da" stroke-width="1.6"/>
<line x1="219.2" y1="26.6" x2="224.8" y2="29.6" stroke="#d8d9da" stroke-width="1.6"/>
<rect x="1500.6" y="8.7" width="45.4" height="34.3" rx="2" fill="#141619" stroke="#2a2c31" stroke-width="1"/>
<rect x="1551.9" y="8.7" width="39.2" height="34.3" rx="2" fill="#141619" stroke="#2a2c31" stroke-width="1"/>
<rect x="1596.8" y="8.7" width="39.2" height="34.3" rx="2" fill="#141619" stroke="#2a2c31" stroke-width="1"/>
<rect x="1652.8" y="8.7" width="39.0" height="34.3" rx="2" fill="#141619" stroke="#2a2c31" stroke-width="1"/>
<rect x="1708.7" y="8.7" width="158.0" height="34.3" rx="2" fill="#141619" stroke="#2a2c31" stroke-width="1"/>
<rect x="1872.7" y="8.7" width="39.0" height="34.3" rx="2" fill="#141619" stroke="#2a2c31" stroke-width="1"/>
<rect x="1917.7" y="8.7" width="73.5" height="34.3" rx="2" fill="#141619" stroke="#2a2c31" stroke-width="1"/>
<line x1="1956.5" y1="9" x2="1956.5" y2="43" stroke="#2a2c31" stroke-width="1"/>
<rect x="1510.2" y="21.7" width="3.4" height="11" fill="#9fa7b3"/>
<rect x="1515.3" y="18.4" width="3.4" height="14.3" fill="#9fa7b3"/>
<rect x="1520.4" y="24.4" width="3.4" height="8.3" fill="#9fa7b3"/>
<rect x="1525.5" y="18.1" width="3.4" height="14.6" fill="#9fa7b3"/>
<path d="M1531.9,20.8 L1531.9,30.8 M1526.9,25.8 L1536.9,25.8" stroke="#f5a623" stroke-width="3.2"/>
<path d="M1565,18.6 L1575.2,18.6 L1579.2,22.6 L1579.2,31.8 a1.3 1.3 0 0 1 -1.3 1.3 L1565.2,33.1 a1.3 1.3 0 0 1 -1.3 -1.3 L1563.9,19.8 a1.3 1.3 0 0 1 1.3 -1.2 Z" fill="none" stroke="#9fa7b3" stroke-width="1.7" stroke-linejoin="round"/>
<path d="M1567.5,19 L1567.5,22.8 L1573.5,22.8 L1573.5,19" fill="none" stroke="#9fa7b3" stroke-width="1.7" stroke-linejoin="round"/>
<path d="M1566.8,32.8 L1566.8,28.6 a1.2 1.2 0 0 1 1.2 -1.2 L1575,27.4 a1.2 1.2 0 0 1 1.2 1.2 L1576.2,32.8" fill="none" stroke="#9fa7b3" stroke-width="1.7" stroke-linejoin="round"/>
<polygon points="1624.45,27.19 1623.18,30.24 1620.99,29.50 1620.20,30.29 1620.94,32.48 1617.89,33.75 1616.86,31.67 1615.74,31.67 1614.71,33.75 1611.66,32.48 1612.40,30.29 1611.61,29.50 1609.42,30.24 1608.15,27.19 1610.23,26.16 1610.23,25.04 1608.15,24.01 1609.42,20.96 1611.61,21.70 1612.40,20.91 1611.66,18.72 1614.71,17.45 1615.74,19.53 1616.86,19.53 1617.89,17.45 1620.94,18.72 1620.20,20.91 1620.99,21.70 1623.18,20.96 1624.45,24.01 1622.37,25.04 1622.37,26.16" fill="none" stroke="#9fa7b3" stroke-width="1.6" stroke-linejoin="round"/>
<circle cx="1616.3" cy="25.6" r="2.6" fill="none" stroke="#9fa7b3" stroke-width="1.6"/>
<rect x="1664.8" y="18.2" width="15" height="11.4" rx="1.5" fill="none" stroke="#9fa7b3" stroke-width="1.7" stroke-linejoin="round"/>
<line x1="1665" y1="26" x2="1679.6" y2="26" stroke="#9fa7b3" stroke-width="1.5"/>
<rect x="1668.6" y="29.6" width="7.4" height="3.6" fill="none" stroke="#9fa7b3" stroke-width="1.7" stroke-linejoin="round"/>
<circle cx="1728.5" cy="25.5" r="8" fill="none" stroke="#9fa7b3" stroke-width="1.7"/>
<polyline points="1728.5,20.6 1728.5,25.6 1725.5,25.6" fill="none" stroke="#9fa7b3" stroke-width="1.6"/>
<text x="1743.5" y="30.4" font-size="15.8" fill="#9fa7b3" stroke="#9fa7b3" stroke-width="0.45">Last 3 hours</text>
<polyline points="1847.7,23.3 1851.9,27.8 1856.1,23.3" fill="none" stroke="#9fa7b3" stroke-width="1.6" stroke-linecap="round"/>
<circle cx="1889.8" cy="24.2" r="6.8" fill="none" stroke="#9fa7b3" stroke-width="1.7"/>
<line x1="1886.4" y1="24.2" x2="1893.2" y2="24.2" stroke="#9fa7b3" stroke-width="1.7"/>
<line x1="1894.8" y1="29.2" x2="1899.6" y2="34" stroke="#9fa7b3" stroke-width="1.7" stroke-linecap="round"/>
<path d="M1930.3,23 A7.2 7.2 0 0 1 1943.7 22.3" fill="none" stroke="#9fa7b3" stroke-width="1.7"/>
<path d="M1943.7,28 A7.2 7.2 0 0 1 1930.3 28.7" fill="none" stroke="#9fa7b3" stroke-width="1.7"/>
<polyline points="1929.8,18.2 1930.3,23 1935,22.4" fill="none" stroke="#9fa7b3" stroke-width="1.6" stroke-linecap="round"/>
<polyline points="1944.2,32.8 1943.7,28 1939,28.6" fill="none" stroke="#9fa7b3" stroke-width="1.6" stroke-linecap="round"/>
<polyline points="1970,24 1974.1,28.3 1978.2,24" fill="none" stroke="#9fa7b3" stroke-width="1.6" stroke-linecap="round"/>
<rect x="85.5" y="75.5" width="37" height="35" rx="2.5" fill="#16171c" stroke="#222429"/>
<text x="95.6" y="97.8" font-size="13.5" fill="#33a2e5" stroke="#33a2e5" stroke-width="0.22">api</text>
<rect x="128.5" y="75.5" width="72" height="35" rx="1.5" fill="#0b0c0e" stroke="#2c2e33"/>
<text x="138.8" y="98.4" font-size="15.5" fill="#d8d9da" stroke="#d8d9da" stroke-width="0.22">main</text>
<polyline points="179.5,91.3 182.8,94.6 186.1,91.3" fill="none" stroke="#d8d9da" stroke-width="1.4"/>
</svg>
</body></html>
